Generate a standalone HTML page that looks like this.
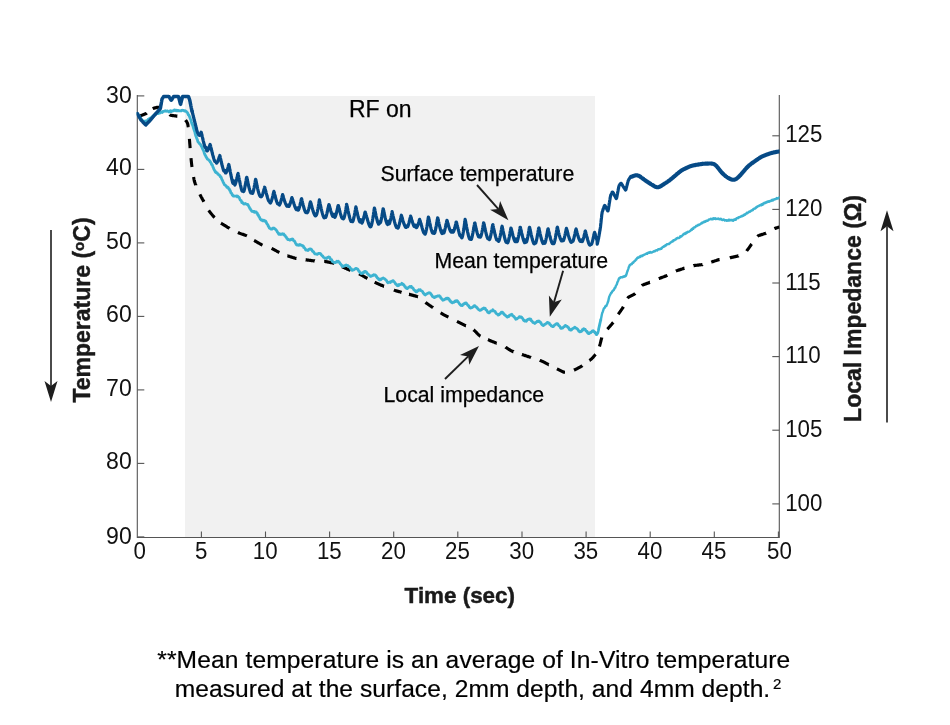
<!DOCTYPE html>
<html lang="en">
<head>
<meta charset="utf-8">
<title>RF ablation: temperature and local impedance</title>
<style>
html,body{margin:0;padding:0;background:#fff;}
body{width:950px;height:725px;overflow:hidden;}
svg{display:block;}
text{font-family:"Liberation Sans","DejaVu Sans",sans-serif;fill:#1a1a1a;}
.tk text{font-size:24px;fill:#111;}
.an text{font-size:21.25px;fill:#000;stroke:#000;stroke-width:0.25px;}
.ttl{font-size:23px;font-weight:bold;fill:#1a1a1a;stroke:#1a1a1a;stroke-width:0.45px;stroke-linejoin:round;}
.cap text{font-size:24.6px;fill:#000;stroke:#000;stroke-width:0.2px;}
</style>
</head>
<body>
<svg width="950" height="725" viewBox="0 0 950 725">
<rect width="950" height="725" fill="#fff"/>
<rect x="185" y="96" width="410" height="441.5" fill="#f1f1f1"/>
<g stroke="#555" stroke-width="1.1" fill="none">
<path d="M137.3,95 V537.5 H779.3 V95"/>
<path d="M137.3,95.9 h7"/>
<path d="M137.3,169.4 h7"/>
<path d="M137.3,242.9 h7"/>
<path d="M137.3,316.4 h7"/>
<path d="M137.3,389.9 h7"/>
<path d="M137.3,463.4 h7"/>
<path d="M137.3,536.9 h7"/>
<path d="M201.4,537.5 v-6"/>
<path d="M265.5,537.5 v-6"/>
<path d="M329.6,537.5 v-6"/>
<path d="M393.7,537.5 v-6"/>
<path d="M457.8,537.5 v-6"/>
<path d="M522.0,537.5 v-6"/>
<path d="M586.1,537.5 v-6"/>
<path d="M650.2,537.5 v-6"/>
<path d="M714.3,537.5 v-6"/>
<path d="M778.4,537.5 v-6"/>
<path d="M779.3,503.9 h-7"/>
<path d="M779.3,430.2 h-7"/>
<path d="M779.3,356.6 h-7"/>
<path d="M779.3,283.0 h-7"/>
<path d="M779.3,209.4 h-7"/>
<path d="M779.3,135.8 h-7"/>
</g>
<g class="tk">
<text transform="translate(131.7,102.7) scale(0.96,1)" text-anchor="end">30</text>
<text transform="translate(131.7,175.4) scale(0.96,1)" text-anchor="end">40</text>
<text transform="translate(131.7,248.9) scale(0.96,1)" text-anchor="end">50</text>
<text transform="translate(131.7,322.4) scale(0.96,1)" text-anchor="end">60</text>
<text transform="translate(131.7,395.9) scale(0.96,1)" text-anchor="end">70</text>
<text transform="translate(131.7,469.4) scale(0.96,1)" text-anchor="end">80</text>
<text transform="translate(131.7,543.7) scale(0.96,1)" text-anchor="end">90</text>
<text transform="translate(139.6,558.8) scale(0.93,1)" text-anchor="middle">0</text>
<text transform="translate(201.1,558.8) scale(0.93,1)" text-anchor="middle">5</text>
<text transform="translate(265.2,558.8) scale(0.93,1)" text-anchor="middle">10</text>
<text transform="translate(329.3,558.8) scale(0.93,1)" text-anchor="middle">15</text>
<text transform="translate(393.4,558.8) scale(0.93,1)" text-anchor="middle">20</text>
<text transform="translate(457.5,558.8) scale(0.93,1)" text-anchor="middle">25</text>
<text transform="translate(521.7,558.8) scale(0.93,1)" text-anchor="middle">30</text>
<text transform="translate(585.8,558.8) scale(0.93,1)" text-anchor="middle">35</text>
<text transform="translate(649.9,558.8) scale(0.93,1)" text-anchor="middle">40</text>
<text transform="translate(714.0,558.8) scale(0.93,1)" text-anchor="middle">45</text>
<text transform="translate(779.4,558.8) scale(0.93,1)" text-anchor="middle">50</text>
<text transform="translate(785.2,510.5) scale(0.93,1)">100</text>
<text transform="translate(785.2,436.8) scale(0.93,1)">105</text>
<text transform="translate(785.2,363.2) scale(0.93,1)">110</text>
<text transform="translate(785.2,289.6) scale(0.93,1)">115</text>
<text transform="translate(785.2,216.0) scale(0.93,1)">120</text>
<text transform="translate(785.2,142.3) scale(0.93,1)">125</text>
</g>
<clipPath id="plot"><rect x="136.6" y="94" width="642.9" height="445"/></clipPath>
<g clip-path="url(#plot)">
<path d="M140.0,116.0 140.2,115.9 140.4,115.8 140.6,115.7 140.8,115.7 141.0,115.6 141.2,115.5 141.4,115.4 141.6,115.4 141.8,115.3 142.0,115.2 142.2,115.1 142.4,115.0 142.6,115.0 142.8,114.9 143.0,114.8 143.2,114.7 143.4,114.6 143.6,114.6 143.8,114.5 144.0,114.4 144.2,114.3 144.4,114.3 144.6,114.2 144.8,114.1 145.0,114.0 145.2,113.9 145.4,113.9 145.6,113.8 145.8,113.7 146.0,113.6 146.2,113.5 146.4,113.4 146.6,113.3 146.8,113.1M152.7,108.7 152.9,108.6 153.1,108.5 153.3,108.4 153.5,108.3 153.7,108.3 153.9,108.2 154.1,108.1 154.3,108.1 154.5,108.0 154.7,108.0 154.9,107.9 155.1,107.9 155.3,107.8 155.5,107.8 155.7,107.7 155.9,107.7 156.1,107.6 156.3,107.6 156.5,107.5 156.7,107.5 156.9,107.4 157.1,107.4 157.3,107.3 157.5,107.3 157.7,107.3 157.9,107.2 158.1,107.2 158.3,107.2 158.5,107.2 158.7,107.2 158.9,107.2 159.1,107.3 159.3,107.3 159.5,107.3 159.7,107.4 159.9,107.4 160.1,107.5 160.3,107.6 160.5,107.6M169.6,114.6 169.8,114.8 170.0,114.9 170.2,115.0 170.4,115.1 170.6,115.2 170.8,115.2 171.0,115.3 171.2,115.3 171.4,115.4 171.6,115.4 171.8,115.4 172.0,115.5 172.2,115.5 172.4,115.5 172.6,115.5 172.8,115.6 173.0,115.6 173.2,115.6 173.4,115.7 173.6,115.7 173.8,115.7 174.0,115.7 174.2,115.8 174.4,115.8 174.6,115.8 174.8,115.8 175.0,115.9 175.2,115.9 175.4,115.9 175.6,115.9 175.8,116.0 176.0,116.0 176.2,116.0 176.4,116.1 176.6,116.1 176.8,116.1 177.0,116.2 177.2,116.2 177.3,116.2M185.5,120.1 185.7,120.4 185.9,120.6 186.1,120.9 186.3,121.1 186.5,121.4 186.7,121.7 186.9,122.1 187.1,122.5 187.3,122.9 187.5,123.4 187.7,124.0 187.9,124.9 188.1,126.2 188.3,127.3M189.4,138.9 189.6,141.3 189.8,143.8 190.0,146.2 190.1,148.1M191.0,158.1 191.2,160.1 191.4,162.0 191.6,163.9 191.8,165.6 192.0,167.0M193.6,177.1 193.8,178.3 194.0,179.5 194.2,180.5 194.4,181.3 194.6,181.9 194.8,182.4 195.0,183.0 195.2,183.6 195.4,184.1 195.6,184.6 195.8,185.1 195.8,185.3M199.9,194.4 200.1,194.8 200.3,195.2 200.5,195.6 200.7,196.0 200.9,196.4 201.1,196.7 201.3,197.1 201.5,197.5 201.7,197.8 201.9,198.2 202.1,198.6 202.3,198.9 202.5,199.3 202.7,199.6 202.9,200.0 203.1,200.4 203.3,200.7 203.5,201.1 203.7,201.4 203.9,201.8M208.7,210.4 208.9,210.7 209.1,211.0 209.3,211.3 209.5,211.5 209.7,211.8 209.9,212.1 210.1,212.3 210.3,212.6 210.5,212.8 210.7,213.1 210.9,213.3 211.1,213.5 211.3,213.8 211.5,214.0 211.7,214.3 211.9,214.5 212.1,214.7 212.3,215.0 212.5,215.2 212.7,215.5 212.9,215.7 213.1,215.9 213.3,216.2 213.5,216.4 213.7,216.6 213.9,216.8 214.1,217.1 214.3,217.3 214.5,217.5 214.6,217.6M221.0,223.1 221.2,223.2 221.4,223.4 221.6,223.5 221.8,223.7 222.0,223.8 222.2,223.9 222.4,224.1 222.6,224.2 222.8,224.3 223.0,224.4 223.2,224.5 223.4,224.7 223.6,224.8 223.8,224.9 224.0,225.0 224.2,225.2 224.4,225.3 224.6,225.4 224.8,225.5 225.0,225.6 225.2,225.8 225.4,225.9 225.6,226.0 225.8,226.1 226.0,226.3 226.2,226.4 226.4,226.5 226.6,226.6 226.8,226.7 227.0,226.9 227.2,227.0 227.4,227.1 227.6,227.2 227.8,227.4 228.0,227.5 228.2,227.6 228.4,227.7 228.6,227.8 228.8,228.0 229.0,228.1 229.2,228.2 229.4,228.3 229.5,228.4M237.9,232.5 238.1,232.6 238.3,232.7 238.5,232.8 238.7,232.9 238.9,232.9 239.1,233.0 239.3,233.1 239.5,233.2 239.7,233.2 239.9,233.3 240.1,233.4 240.3,233.5 240.5,233.5 240.7,233.6 240.9,233.7 241.1,233.7 241.3,233.8 241.5,233.9 241.7,234.0 241.9,234.0 242.1,234.1 242.3,234.2 242.5,234.2 242.7,234.3 242.9,234.4 243.1,234.4 243.3,234.5 243.5,234.6 243.7,234.7 243.9,234.7 244.1,234.8 244.3,234.9 244.5,234.9 244.7,235.0 244.9,235.1 245.1,235.2 245.3,235.2 245.5,235.3 245.7,235.4 245.9,235.5 246.1,235.5 246.3,235.6 246.5,235.7 246.7,235.8 246.9,235.9M254.1,240.4 254.3,240.5 254.5,240.6 254.7,240.7 254.9,240.9 255.1,241.0 255.3,241.1 255.5,241.2 255.7,241.3 255.9,241.5 256.1,241.6 256.3,241.7 256.5,241.8 256.7,241.9 256.9,242.0 257.1,242.2 257.3,242.3 257.5,242.4 257.7,242.5 257.9,242.6 258.1,242.7 258.3,242.9 258.5,243.0 258.7,243.1 258.9,243.2 259.1,243.3 259.3,243.4 259.5,243.6 259.7,243.7 259.9,243.8 260.1,243.9 260.3,244.0 260.5,244.1 260.7,244.3 260.9,244.4 261.1,244.5 261.3,244.6 261.5,244.7 261.7,244.8 261.9,244.9 262.1,245.0 262.3,245.1 262.5,245.2M271.6,248.4 271.8,248.5 272.0,248.6 272.2,248.7 272.4,248.8 272.6,248.9 272.8,249.0 273.0,249.1 273.2,249.2 273.4,249.3 273.6,249.4 273.8,249.5 274.0,249.6 274.2,249.7 274.4,249.8 274.6,250.0 274.8,250.1 275.0,250.2 275.2,250.3 275.4,250.4 275.6,250.5 275.8,250.6 276.0,250.7 276.2,250.8 276.4,250.9 276.6,251.1 276.8,251.2 277.0,251.3 277.2,251.4 277.4,251.5 277.6,251.6 277.8,251.7 278.0,251.8 278.2,251.9 278.4,252.0 278.6,252.1 278.8,252.2 279.0,252.3 279.2,252.4 279.4,252.5M287.4,255.8 287.6,255.8 287.8,255.9 288.0,256.0 288.2,256.0 288.4,256.1 288.6,256.2 288.8,256.2 289.0,256.3 289.2,256.4 289.4,256.4 289.6,256.5 289.8,256.5 290.0,256.6 290.2,256.7 290.4,256.7 290.6,256.8 290.8,256.9 291.0,256.9 291.2,257.0 291.4,257.0 291.6,257.1 291.8,257.2 292.0,257.2 292.2,257.3 292.4,257.4 292.6,257.4 292.8,257.5 293.0,257.5 293.2,257.6 293.4,257.7 293.6,257.7 293.8,257.8 294.0,257.9 294.2,257.9 294.4,258.0 294.6,258.0 294.8,258.1 295.0,258.2 295.2,258.2 295.4,258.3 295.6,258.3 295.8,258.4 296.0,258.4 296.2,258.5 296.4,258.5M305.7,259.8 305.9,259.8 306.1,259.9 306.3,259.9 306.5,259.9 306.7,259.9 306.9,260.0 307.1,260.0 307.3,260.0 307.5,260.0 307.7,260.1 307.9,260.1 308.1,260.1 308.3,260.1 308.5,260.2 308.7,260.2 308.9,260.2 309.1,260.3 309.3,260.3 309.5,260.3 309.7,260.3 309.9,260.4 310.1,260.4 310.3,260.4 310.5,260.4 310.7,260.5 310.9,260.5 311.1,260.5 311.3,260.5 311.5,260.6 311.7,260.6 311.9,260.6 312.1,260.7 312.3,260.7 312.5,260.7 312.7,260.7 312.9,260.8 313.1,260.8 313.3,260.8 313.5,260.8 313.7,260.9 313.9,260.9 314.1,260.9 314.3,260.9 314.5,260.9 314.7,261.0M324.2,261.4 324.4,261.4 324.6,261.4 324.8,261.4 325.0,261.5 325.2,261.5 325.4,261.5 325.6,261.6 325.8,261.6 326.0,261.6 326.2,261.7 326.4,261.7 326.6,261.8 326.8,261.8 327.0,261.8 327.2,261.9 327.4,261.9 327.6,262.0 327.8,262.0 328.0,262.0 328.2,262.1 328.4,262.1 328.6,262.1 328.8,262.2 329.0,262.2 329.2,262.3 329.4,262.3 329.6,262.3 329.8,262.4 330.0,262.4 330.2,262.5 330.4,262.5 330.6,262.5 330.8,262.6 331.0,262.6 331.2,262.6 331.4,262.7 331.6,262.7 331.8,262.8 332.0,262.8 332.2,262.8 332.4,262.9 332.6,262.9 332.8,263.0 333.0,263.0 333.2,263.0 333.4,263.1 333.6,263.1 333.8,263.2 334.0,263.3 334.1,263.3M342.1,266.7 342.3,266.8 342.5,266.9 342.7,267.0 342.9,267.1 343.1,267.2 343.3,267.2 343.5,267.3 343.7,267.4 343.9,267.5 344.1,267.6 344.3,267.7 344.5,267.8 344.7,267.9 344.9,268.0 345.1,268.1 345.3,268.1 345.5,268.2 345.7,268.3 345.9,268.4 346.1,268.5 346.3,268.6 346.5,268.7 346.7,268.8 346.9,268.9 347.1,269.0 347.3,269.1 347.5,269.1 347.7,269.2 347.9,269.3 348.1,269.4 348.3,269.5 348.5,269.6 348.7,269.7 348.9,269.8 349.1,269.9 349.3,270.0 349.5,270.0 349.7,270.1 349.9,270.2 350.1,270.3 350.3,270.4 350.5,270.5M359.0,273.8 359.2,273.9 359.4,274.0 359.6,274.1 359.8,274.2 360.0,274.3 360.2,274.4 360.4,274.5 360.6,274.6 360.8,274.7 361.0,274.8 361.2,275.0 361.4,275.1 361.6,275.2 361.8,275.3 362.0,275.4 362.2,275.5 362.4,275.6 362.6,275.8 362.8,275.9 363.0,276.0 363.2,276.1 363.4,276.2 363.6,276.3 363.8,276.4 364.0,276.6 364.2,276.7 364.4,276.8 364.6,276.9 364.8,277.0 365.0,277.1 365.2,277.2 365.4,277.4 365.6,277.5 365.8,277.6 366.0,277.7 366.2,277.8 366.4,277.9 366.6,278.0 366.8,278.1 367.0,278.3 367.2,278.4 367.4,278.5M374.7,282.2 374.9,282.3 375.1,282.4 375.3,282.5 375.5,282.6 375.7,282.7 375.9,282.8 376.1,282.9 376.3,283.0 376.5,283.1 376.7,283.2 376.9,283.3 377.1,283.4 377.3,283.5 377.5,283.6 377.7,283.7 377.9,283.8 378.1,283.8 378.3,283.9 378.5,284.0 378.7,284.1 378.9,284.2 379.1,284.3 379.3,284.4 379.5,284.5 379.7,284.6 379.9,284.7 380.1,284.8 380.3,284.8 380.5,284.9 380.7,285.0 380.9,285.1 381.1,285.1 381.3,285.2 381.5,285.3 381.7,285.4 381.9,285.4 382.1,285.5 382.3,285.6 382.5,285.7 382.7,285.8 382.9,285.8 383.1,285.9 383.3,286.0 383.5,286.1 383.7,286.1 383.9,286.2 384.0,286.2M393.9,290.0 394.1,290.1 394.3,290.2 394.5,290.2 394.7,290.3 394.9,290.4 395.1,290.5 395.3,290.5 395.5,290.6 395.7,290.7 395.9,290.7 396.1,290.8 396.3,290.9 396.5,290.9 396.7,291.0 396.9,291.0 397.1,291.1 397.3,291.1 397.5,291.2 397.7,291.3 397.9,291.3 398.1,291.4 398.3,291.4 398.5,291.5 398.7,291.5 398.9,291.6 399.1,291.6 399.3,291.7 399.5,291.7 399.7,291.8 399.9,291.8 400.1,291.9 400.3,292.0 400.5,292.0 400.7,292.1 400.9,292.1 401.1,292.2 401.3,292.2 401.5,292.3M409.0,294.3 409.2,294.3 409.4,294.4 409.6,294.4 409.8,294.5 410.0,294.6 410.2,294.6 410.4,294.7 410.6,294.7 410.8,294.8 411.0,294.8 411.2,294.9 411.4,294.9 411.6,295.0 411.8,295.0 412.0,295.1 412.2,295.1 412.4,295.2 412.6,295.3 412.8,295.3 413.0,295.4 413.2,295.4 413.4,295.5 413.6,295.5 413.8,295.6 414.0,295.6 414.2,295.7 414.4,295.7 414.6,295.8 414.8,295.8 415.0,295.9 415.2,295.9 415.4,296.0 415.6,296.1 415.8,296.1 416.0,296.2 416.2,296.2 416.4,296.3 416.6,296.3 416.8,296.4 417.0,296.5 417.2,296.5 417.4,296.6 417.6,296.7 417.8,296.8 417.9,296.8M425.5,302.4 425.7,302.6 425.9,302.7 426.1,302.9 426.3,303.0 426.5,303.2 426.7,303.3 426.9,303.5 427.1,303.6 427.3,303.8 427.5,303.9 427.7,304.1 427.9,304.2 428.1,304.3 428.3,304.5 428.5,304.6 428.7,304.8 428.9,304.9 429.1,305.0 429.3,305.2 429.5,305.3 429.7,305.4 429.9,305.6 430.1,305.7 430.3,305.8 430.5,306.0 430.7,306.1 430.9,306.3 431.1,306.4 431.3,306.5 431.5,306.7 431.7,306.8 431.9,306.9 432.1,307.1 432.3,307.2 432.5,307.3 432.7,307.5 432.9,307.6 433.0,307.7M440.6,312.8 440.8,312.9 441.0,313.1 441.2,313.2 441.4,313.3 441.6,313.5 441.8,313.6 442.0,313.7 442.2,313.8 442.4,314.0 442.6,314.1 442.8,314.2 443.0,314.3 443.2,314.5 443.4,314.6 443.6,314.7 443.8,314.8 444.0,314.9 444.2,315.0 444.4,315.1 444.6,315.2 444.8,315.3 445.0,315.4 445.2,315.5 445.4,315.6 445.6,315.7 445.8,315.8 446.0,315.9 446.2,316.0 446.4,316.1 446.6,316.2 446.8,316.3 447.0,316.4 447.2,316.5 447.4,316.6 447.6,316.7 447.8,316.8 448.0,316.9 448.2,317.0 448.4,317.1M457.0,321.4 457.2,321.5 457.4,321.6 457.6,321.7 457.8,321.8 458.0,321.9 458.2,322.0 458.4,322.1 458.6,322.2 458.8,322.3 459.0,322.4 459.2,322.5 459.4,322.6 459.6,322.7 459.8,322.8 460.0,322.9 460.2,323.0 460.4,323.1 460.6,323.2 460.8,323.3 461.0,323.4 461.2,323.5 461.4,323.6 461.6,323.7 461.8,323.8 462.0,323.9 462.2,324.0 462.4,324.1 462.6,324.2 462.8,324.3 463.0,324.4 463.2,324.5 463.4,324.6 463.6,324.7 463.8,324.8 464.0,324.9 464.2,325.0 464.4,325.1 464.6,325.2 464.8,325.3 465.0,325.4 465.2,325.5 465.4,325.6 465.6,325.7 465.8,325.8 465.9,325.8M473.5,329.8 473.7,330.0 473.9,330.1 474.1,330.3 474.3,330.5 474.5,330.6 474.7,330.8 474.9,331.0 475.1,331.2 475.3,331.4 475.5,331.6 475.7,331.8 475.9,332.0 476.1,332.2 476.3,332.4 476.5,332.6 476.7,332.9 476.9,333.1 477.1,333.3 477.3,333.5 477.5,333.7 477.7,333.9 477.9,334.1 478.1,334.3 478.3,334.5 478.5,334.7 478.7,334.9 478.9,335.0 479.1,335.2 479.3,335.4 479.5,335.6 479.7,335.7 479.9,335.9 480.1,336.0 480.3,336.1 480.5,336.2M488.0,339.7 488.2,339.8 488.4,339.8 488.6,339.9 488.8,340.0 489.0,340.1 489.2,340.2 489.4,340.3 489.6,340.4 489.8,340.5 490.0,340.6 490.2,340.6 490.4,340.7 490.6,340.8 490.8,340.9 491.0,341.0 491.2,341.1 491.4,341.1 491.6,341.2 491.8,341.3 492.0,341.4 492.2,341.5 492.4,341.5 492.6,341.6 492.8,341.7 493.0,341.8 493.2,341.9 493.4,341.9 493.6,342.0 493.8,342.1 494.0,342.2 494.2,342.3 494.4,342.3 494.6,342.4 494.8,342.5 495.0,342.6 495.2,342.6 495.4,342.7 495.6,342.8 495.8,342.9 496.0,343.0 496.2,343.0 496.4,343.1 496.6,343.2 496.7,343.2M505.5,347.1 505.7,347.3 505.9,347.4 506.1,347.5 506.3,347.6 506.5,347.8 506.7,347.9 506.9,348.0 507.1,348.2 507.3,348.3 507.5,348.4 507.7,348.6 507.9,348.7 508.1,348.8 508.3,349.0 508.5,349.1 508.7,349.2 508.9,349.4 509.1,349.5 509.3,349.6 509.5,349.8 509.7,349.9 509.9,350.0 510.1,350.1 510.3,350.3 510.5,350.4 510.7,350.5 510.9,350.6 511.1,350.7 511.3,350.8 511.5,350.9 511.7,351.0 511.9,351.1 512.1,351.2 512.3,351.3 512.5,351.4 512.7,351.4 512.9,351.5 513.1,351.6 513.3,351.6 513.4,351.7M522.0,354.5 522.2,354.6 522.4,354.6 522.6,354.7 522.8,354.8 523.0,354.8 523.2,354.9 523.4,355.0 523.6,355.0 523.8,355.1 524.0,355.2 524.2,355.2 524.4,355.3 524.6,355.4 524.8,355.4 525.0,355.5 525.2,355.6 525.4,355.6 525.6,355.7 525.8,355.8 526.0,355.8 526.2,355.9 526.4,356.0 526.6,356.0 526.8,356.1 527.0,356.2 527.2,356.2 527.4,356.3 527.6,356.4 527.8,356.4 528.0,356.5 528.2,356.6 528.4,356.6 528.6,356.7 528.8,356.8 529.0,356.8 529.2,356.9 529.4,357.0 529.6,357.0 529.8,357.1 530.0,357.2 530.2,357.2 530.4,357.3 530.6,357.3 530.8,357.4 531.0,357.5M539.7,360.3 539.9,360.4 540.1,360.5 540.3,360.5 540.5,360.6 540.7,360.7 540.9,360.8 541.1,360.8 541.3,360.9 541.5,361.0 541.7,361.1 541.9,361.2 542.1,361.2 542.3,361.3 542.5,361.4 542.7,361.5 542.9,361.6 543.1,361.7 543.3,361.8 543.5,361.9 543.7,362.0 543.9,362.1 544.1,362.2 544.3,362.3 544.5,362.4 544.7,362.5 544.9,362.6 545.1,362.7 545.3,362.8 545.5,363.0 545.7,363.1 545.9,363.2 546.1,363.3 546.3,363.4 546.5,363.5 546.7,363.6 546.9,363.7 547.1,363.8 547.3,363.9 547.5,364.0 547.7,364.1 547.9,364.2 548.1,364.3 548.3,364.4 548.5,364.5 548.7,364.6 548.8,364.6M556.9,368.8 557.1,368.9 557.3,369.0 557.5,369.1 557.7,369.2 557.9,369.3 558.1,369.4 558.3,369.5 558.5,369.6 558.7,369.7 558.9,369.8 559.1,369.9 559.3,370.0 559.5,370.1 559.7,370.2 559.9,370.3 560.1,370.4 560.3,370.5 560.5,370.6 560.7,370.7 560.9,370.8 561.1,370.9 561.3,371.0 561.5,371.1 561.7,371.2 561.9,371.3 562.1,371.4 562.3,371.5 562.5,371.6 562.7,371.7 562.9,371.8 563.1,371.9 563.3,371.9 563.5,372.0 563.7,372.1 563.9,372.1 564.1,372.2 564.3,372.2 564.5,372.2 564.7,372.2 564.9,372.2 565.0,372.2M574.0,370.1 574.2,370.0 574.4,369.9 574.6,369.9 574.8,369.8 575.0,369.7 575.2,369.6 575.4,369.5 575.6,369.4 575.8,369.3 576.0,369.2 576.2,369.1 576.4,369.0 576.6,368.9 576.8,368.8 577.0,368.7 577.2,368.6 577.4,368.5 577.6,368.3 577.8,368.2 578.0,368.1 578.2,368.0 578.4,367.9 578.6,367.8 578.8,367.7 579.0,367.6 579.2,367.5 579.4,367.4 579.6,367.3 579.8,367.2 580.0,367.1 580.2,367.0 580.4,366.9 580.6,366.7 580.8,366.6 581.0,366.5 581.2,366.4 581.4,366.3 581.6,366.2 581.8,366.0 582.0,365.9 582.2,365.8 582.3,365.7M589.4,360.5 589.6,360.4 589.8,360.2 590.0,360.1 590.2,359.9 590.4,359.8 590.6,359.6 590.8,359.5 591.0,359.3 591.2,359.2 591.4,359.0 591.6,358.8 591.8,358.6 592.0,358.4 592.2,358.2 592.4,358.0 592.6,357.8 592.8,357.6 593.0,357.4 593.2,357.2 593.4,356.9 593.6,356.7 593.8,356.4 594.0,356.2 594.2,356.0 594.4,355.7 594.6,355.5 594.8,355.2 595.0,355.0 595.2,354.8 595.4,354.5 595.6,354.3M599.5,346.5 599.7,345.7 599.9,344.9 600.1,344.1 600.3,343.4 600.5,342.6 600.7,341.8 600.9,341.0 601.1,340.2 601.3,339.4 601.5,338.7 601.7,338.0 601.8,337.4M607.3,329.2 607.5,329.0 607.7,328.8 607.9,328.6 608.1,328.4 608.3,328.2 608.5,327.9 608.7,327.7 608.9,327.5 609.1,327.3 609.3,327.0 609.5,326.8 609.7,326.6 609.9,326.3 610.1,326.1 610.3,325.9 610.5,325.7 610.7,325.4 610.9,325.2 611.1,325.0 611.3,324.8 611.5,324.5 611.7,324.3 611.9,324.1 612.1,323.8 612.3,323.6 612.5,323.3 612.7,323.1 612.9,322.8 613.1,322.5 613.2,322.4M618.3,314.3 618.5,314.0 618.7,313.7 618.9,313.4 619.1,313.1 619.3,312.8 619.5,312.5 619.7,312.2 619.9,311.9 620.1,311.7 620.3,311.4 620.5,311.1 620.7,310.8 620.9,310.5 621.1,310.2 621.3,310.0 621.5,309.7 621.7,309.4 621.9,309.1 622.1,308.8 622.3,308.5 622.5,308.2 622.7,307.9 622.9,307.6 623.1,307.2 623.3,306.9 623.4,306.7M627.6,298.3 627.8,298.0 628.0,297.8 628.2,297.5 628.4,297.3 628.6,297.2 628.8,297.0 629.0,296.9 629.2,296.8 629.4,296.7 629.6,296.6 629.8,296.5 630.0,296.4 630.2,296.3 630.4,296.2 630.6,296.1 630.8,296.0 631.0,295.9 631.2,295.8 631.4,295.7 631.6,295.6 631.8,295.5 632.0,295.4 632.2,295.3 632.4,295.2 632.6,295.1 632.8,295.0 633.0,294.9 633.2,294.8 633.4,294.7 633.6,294.6 633.8,294.5 634.0,294.4 634.2,294.3 634.4,294.1 634.6,294.0 634.8,293.8 635.0,293.7 635.2,293.5M641.8,285.7 642.0,285.5 642.2,285.3 642.4,285.2 642.6,285.1 642.8,285.0 643.0,284.9 643.2,284.8 643.4,284.7 643.6,284.7 643.8,284.6 644.0,284.5 644.2,284.4 644.4,284.4 644.6,284.3 644.8,284.2 645.0,284.2 645.2,284.1 645.4,284.0 645.6,283.9 645.8,283.9 646.0,283.8 646.2,283.7 646.4,283.7 646.6,283.6 646.8,283.5 647.0,283.4 647.2,283.4 647.4,283.3 647.6,283.2 647.8,283.2 648.0,283.1 648.2,283.0 648.4,282.9 648.6,282.9 648.8,282.8 649.0,282.7 649.2,282.6 649.4,282.6 649.6,282.5 649.8,282.4 649.9,282.4M658.8,278.6 659.0,278.5 659.2,278.5 659.4,278.4 659.6,278.3 659.8,278.2 660.0,278.2 660.2,278.1 660.4,278.0 660.6,277.9 660.8,277.9 661.0,277.8 661.2,277.7 661.4,277.6 661.6,277.6 661.8,277.5 662.0,277.4 662.2,277.3 662.4,277.3 662.6,277.2 662.8,277.1 663.0,277.0 663.2,277.0 663.4,276.9 663.6,276.8 663.8,276.7 664.0,276.7 664.2,276.6 664.4,276.5 664.6,276.4 664.8,276.4 665.0,276.3 665.2,276.2 665.4,276.1 665.6,276.1 665.8,276.0 666.0,275.9 666.2,275.8 666.4,275.8 666.6,275.7 666.8,275.6 667.0,275.5 667.2,275.4 667.4,275.3M675.9,271.1 676.1,271.0 676.3,270.9 676.5,270.8 676.7,270.8 676.9,270.7 677.1,270.6 677.3,270.5 677.5,270.5 677.7,270.4 677.9,270.3 678.1,270.3 678.3,270.2 678.5,270.1 678.7,270.1 678.9,270.0 679.1,269.9 679.3,269.9 679.5,269.8 679.7,269.7 679.9,269.7 680.1,269.6 680.3,269.6 680.5,269.5 680.7,269.4 680.9,269.4 681.1,269.3 681.3,269.2 681.5,269.2 681.7,269.1 681.9,269.0 682.1,269.0 682.3,268.9 682.5,268.8 682.7,268.8 682.9,268.7 683.1,268.6 683.3,268.6 683.5,268.5 683.7,268.4 683.9,268.4 684.1,268.3 684.3,268.2 684.4,268.2M693.5,265.7 693.7,265.6 693.9,265.6 694.1,265.6 694.3,265.5 694.5,265.5 694.7,265.5 694.9,265.4 695.1,265.4 695.3,265.4 695.5,265.4 695.7,265.4 695.9,265.3 696.1,265.3 696.3,265.3 696.5,265.3 696.7,265.2 696.9,265.2 697.1,265.2 697.3,265.2 697.5,265.2 697.7,265.1 697.9,265.1 698.1,265.1 698.3,265.1 698.5,265.0 698.7,265.0 698.9,265.0 699.1,265.0 699.3,264.9 699.5,264.9 699.7,264.9 699.9,264.9 700.1,264.9 700.3,264.8 700.5,264.8 700.7,264.8 700.9,264.8 701.1,264.7 701.3,264.7 701.5,264.7 701.7,264.7 701.9,264.6 702.1,264.6 702.3,264.6 702.4,264.5M711.3,262.1 711.5,262.0 711.7,262.0 711.9,261.9 712.1,261.8 712.3,261.8 712.5,261.7 712.7,261.6 712.9,261.6 713.1,261.5 713.3,261.4 713.5,261.4 713.7,261.3 713.9,261.2 714.1,261.2 714.3,261.1 714.5,261.0 714.7,261.0 714.9,260.9 715.1,260.8 715.3,260.8 715.5,260.7 715.7,260.7 715.9,260.6 716.1,260.5 716.3,260.5 716.5,260.4 716.7,260.3 716.9,260.3 717.1,260.2 717.3,260.1 717.5,260.1 717.7,260.0 717.9,259.9 718.1,259.9 718.3,259.8 718.5,259.7 718.7,259.7 718.9,259.6 719.1,259.6 719.3,259.5 719.5,259.5M729.9,257.8 730.1,257.7 730.3,257.7 730.5,257.7 730.7,257.6 730.9,257.6 731.1,257.5 731.3,257.5 731.5,257.4 731.7,257.4 731.9,257.4 732.1,257.3 732.3,257.3 732.5,257.2 732.7,257.2 732.9,257.1 733.1,257.1 733.3,257.0 733.5,257.0 733.7,257.0 733.9,256.9 734.1,256.9 734.3,256.8 734.5,256.8 734.7,256.7 734.9,256.7 735.1,256.6 735.3,256.6 735.5,256.5 735.7,256.5 735.9,256.5 736.1,256.4 736.3,256.4 736.5,256.3 736.7,256.3 736.9,256.2 737.1,256.2 737.3,256.1 737.5,256.1 737.7,256.0 737.9,256.0 738.1,255.9 738.3,255.9 738.4,255.8M746.6,251.0 746.8,250.7 747.0,250.5 747.2,250.3 747.4,250.0 747.6,249.8 747.8,249.5 748.0,249.2 748.2,248.9 748.4,248.7 748.6,248.4 748.8,248.1 749.0,247.8 749.2,247.5 749.4,247.2 749.6,247.0 749.8,246.7 750.0,246.4 750.2,246.1 750.4,245.8 750.6,245.6 750.8,245.3 751.0,245.0 751.2,244.7 751.4,244.4 751.6,244.1 751.7,244.0M757.4,236.4 757.6,236.2 757.8,236.1 758.0,236.0 758.2,235.8 758.4,235.7 758.6,235.6 758.8,235.5 759.0,235.5 759.2,235.4 759.4,235.3 759.6,235.3 759.8,235.2 760.0,235.1 760.2,235.1 760.4,235.0 760.6,234.9 760.8,234.9 761.0,234.8 761.2,234.7 761.4,234.7 761.6,234.6 761.8,234.6 762.0,234.5 762.2,234.4 762.4,234.4 762.6,234.3 762.8,234.2 763.0,234.2 763.2,234.1 763.4,234.0 763.6,234.0 763.8,233.9 764.0,233.8 764.2,233.8 764.4,233.7 764.6,233.6 764.8,233.6 765.0,233.5 765.2,233.4 765.4,233.3 765.6,233.2 765.8,233.2 765.9,233.1M774.4,228.7 774.6,228.6 774.8,228.5 775.0,228.4 775.2,228.4 775.4,228.3 775.6,228.2 775.8,228.1 776.0,228.1 776.2,228.0 776.4,227.9 776.6,227.9 776.8,227.8 777.0,227.7 777.2,227.7 777.4,227.6 777.6,227.5 777.8,227.5 778.0,227.4 778.2,227.3 778.4,227.3 778.6,227.2 778.8,227.2 779.0,227.2 779.2,227.1 779.3,227.1" fill="none" stroke="#000" stroke-width="3.1"/>
<path d="M137.3,113.4 137.8,114.1 138.3,115.2 138.8,115.8 139.3,116.0 139.8,117.4 140.3,117.6 140.8,118.6 141.3,119.6 141.8,119.7 142.3,120.3 142.8,120.8 143.3,121.2 143.8,121.5 144.3,121.1 144.8,121.6 145.3,121.6 145.8,120.8 146.3,120.9 146.8,120.6 147.3,120.5 147.8,120.3 148.3,119.2 148.8,119.0 149.3,119.1 149.8,118.3 150.3,118.1 150.8,118.2 151.3,117.4 151.8,117.6 152.3,117.2 152.8,116.0 153.3,116.0 153.8,115.8 154.3,115.5 154.8,114.3 155.3,113.9 155.8,114.3 156.3,114.1 156.8,113.2 157.3,113.3 157.8,113.5 158.3,113.5 158.8,112.7 159.3,113.1 159.8,113.1 160.3,112.8 160.8,112.3 161.3,112.0 161.8,112.1 162.3,112.5 162.8,111.5 163.3,111.3 163.8,111.4 164.3,111.0 164.8,110.9 165.3,110.7 165.8,111.2 166.3,111.3 166.8,111.1 167.3,110.9 167.8,111.1 168.3,111.4 168.8,111.8 169.3,111.9 169.8,111.1 170.3,110.8 170.8,111.5 171.3,111.5 171.8,110.9 172.3,111.1 172.8,111.0 173.3,110.7 173.8,110.8 174.3,109.9 174.8,110.1 175.3,110.2 175.8,110.1 176.3,110.9 176.8,110.1 177.3,110.9 177.8,110.4 178.3,110.7 178.8,110.8 179.3,110.6 179.8,110.9 180.3,110.9 180.8,110.6 181.3,110.9 181.8,110.3 182.3,110.2 182.8,110.4 183.3,110.4 183.8,110.3 184.3,111.1 184.8,111.1 185.3,110.7 185.8,111.2 186.3,111.5 186.8,112.1 187.3,112.5 187.8,113.4 188.3,114.7 188.8,115.0 189.3,116.2 189.8,117.3 190.3,118.8 190.8,119.5 191.3,121.6 191.8,123.3 192.3,124.4 192.8,125.6 193.3,127.5 193.8,129.1 194.3,130.6 194.8,131.8 195.3,134.3 195.8,135.9 196.3,137.0 196.8,138.7 197.3,139.4 197.8,141.5 198.3,142.1 198.8,142.7 199.3,143.5 199.8,143.6 200.3,144.4 200.8,145.1 201.3,146.3 201.8,146.7 202.3,148.5 202.8,149.2 203.3,150.3 203.8,151.2 204.3,153.1 204.8,154.5 205.3,155.4 205.8,156.1 206.3,157.6 206.8,157.7 207.3,159.0 207.8,159.3 208.3,159.5 208.8,160.1 209.3,160.7 209.8,160.9 210.3,162.1 210.8,162.4 211.3,163.8 211.8,164.7 212.3,165.0 212.8,166.7 213.3,167.5 213.8,169.1 214.3,169.9 214.8,170.8 215.3,172.0 215.8,171.8 216.3,172.8 216.8,173.0 217.3,173.0 217.8,174.1 218.3,174.2 218.8,174.9 219.3,175.1 219.8,175.4 220.3,176.8 220.8,176.7 221.3,177.6 221.8,179.3 222.3,180.1 222.8,181.1 223.3,182.7 223.8,183.1 224.3,184.6 224.8,185.0 225.3,185.3 225.8,185.5 226.3,186.1 226.8,187.2 227.3,187.0 227.8,187.1 228.3,187.7 228.8,189.0 229.3,189.0 229.8,190.5 230.3,190.8 230.8,192.7 231.3,193.2 231.8,193.5 232.3,195.1 232.8,195.2 233.3,196.1 233.8,196.2 234.3,196.0 234.8,196.1 235.3,196.2 235.8,196.1 236.3,196.0 236.8,195.9 237.3,196.9 237.8,196.2 238.3,196.9 238.8,197.0 239.3,197.8 239.8,199.1 240.3,200.1 240.8,200.5 241.3,200.8 241.8,202.6 242.3,202.2 242.8,203.0 243.3,203.5 243.8,204.0 244.3,204.0 244.8,203.8 245.3,203.5 245.8,204.0 246.3,204.1 246.8,204.3 247.3,204.6 247.8,204.5 248.3,205.4 248.8,206.4 249.3,207.3 249.8,208.5 250.3,208.8 250.8,210.0 251.3,210.4 251.8,211.3 252.3,211.1 252.8,211.6 253.3,211.3 253.8,211.4 254.3,212.2 254.8,211.6 255.3,212.2 255.8,212.1 256.3,212.0 256.8,213.2 257.3,213.2 257.8,214.8 258.3,214.9 258.8,216.5 259.3,216.9 259.8,218.0 260.3,219.3 260.8,219.4 261.3,220.1 261.8,220.4 262.3,220.0 262.8,220.8 263.3,220.9 263.8,220.2 264.3,220.7 264.8,220.7 265.3,221.5 265.8,221.3 266.3,222.5 266.8,223.5 267.3,224.4 267.8,224.7 268.3,226.4 268.8,226.6 269.3,228.0 269.8,228.3 270.3,228.3 270.8,229.1 271.3,229.1 271.8,228.9 272.3,229.0 272.8,228.2 273.3,228.1 273.8,228.0 274.3,228.5 274.8,228.7 275.3,229.1 275.8,229.8 276.3,230.3 276.8,230.7 277.3,232.0 277.8,232.5 278.3,233.3 278.8,234.2 279.3,233.8 279.8,234.4 280.3,234.5 280.8,234.0 281.3,234.1 281.8,234.4 282.3,233.7 282.8,234.0 283.3,234.2 283.8,234.0 284.3,235.1 284.8,235.3 285.3,235.8 285.8,236.8 286.3,237.2 286.8,238.3 287.3,238.5 287.8,239.6 288.3,239.6 288.8,239.5 289.3,239.7 289.8,240.1 290.3,239.9 290.8,239.4 291.3,239.1 291.8,239.1 292.3,239.8 292.8,239.1 293.3,240.3 293.8,240.8 294.3,240.8 294.8,241.7 295.3,242.7 295.8,243.6 296.3,244.5 296.8,245.0 297.3,244.7 297.8,244.9 298.3,245.2 298.8,245.3 299.3,245.2 299.8,244.5 300.3,244.9 300.8,245.1 301.3,245.1 301.8,245.3 302.3,245.7 302.8,246.2 303.3,245.9 303.8,247.5 304.3,247.6 304.8,248.3 305.3,249.0 305.8,250.0 306.3,250.0 306.8,250.0 307.3,250.1 307.8,250.5 308.3,250.2 308.8,249.3 309.3,249.2 309.8,249.1 310.3,248.9 310.8,249.3 311.3,249.2 311.8,250.0 312.3,250.9 312.8,251.4 313.3,251.4 313.8,252.2 314.3,253.0 314.8,253.8 315.3,253.9 315.8,254.0 316.3,254.2 316.8,253.9 317.3,254.4 317.8,254.0 318.3,253.5 318.8,253.6 319.3,253.3 319.8,253.4 320.3,253.4 320.8,253.9 321.3,254.9 321.8,255.3 322.3,256.0 322.8,256.0 323.3,257.1 323.8,257.5 324.3,257.7 324.8,258.2 325.3,258.0 325.8,258.1 326.3,258.5 326.8,258.2 327.3,257.9 327.8,257.1 328.3,257.1 328.8,256.9 329.3,257.2 329.8,257.5 330.3,258.9 330.8,259.4 331.3,259.4 331.8,260.1 332.3,261.5 332.8,261.7 333.3,262.0 333.8,262.4 334.3,262.3 334.8,262.6 335.3,262.6 335.8,262.2 336.3,262.2 336.8,261.3 337.3,261.6 337.8,262.0 338.3,261.2 338.8,261.8 339.3,262.4 339.8,262.7 340.3,263.9 340.8,264.2 341.3,264.8 341.8,265.8 342.3,265.4 342.8,266.6 343.3,266.0 343.8,266.2 344.3,266.2 344.8,265.9 345.3,265.2 345.8,265.2 346.3,265.0 346.8,265.5 347.3,265.6 347.8,265.5 348.3,266.2 348.8,266.7 349.3,266.8 349.8,267.2 350.3,268.4 350.8,268.7 351.3,268.9 351.8,270.2 352.3,270.4 352.8,270.0 353.3,270.0 353.8,269.8 354.3,269.7 354.8,269.0 355.3,268.8 355.8,268.4 356.3,268.4 356.8,268.8 357.3,268.9 357.8,269.2 358.3,270.1 358.8,271.1 359.3,271.3 359.8,272.5 360.3,272.9 360.8,273.2 361.3,273.6 361.8,272.8 362.3,272.8 362.8,273.3 363.3,273.0 363.8,271.9 364.3,272.3 364.8,271.3 365.3,271.4 365.8,271.5 366.3,272.0 366.8,272.6 367.3,273.7 367.8,273.9 368.3,274.2 368.8,275.0 369.3,275.3 369.8,275.7 370.3,276.3 370.8,276.5 371.3,276.1 371.8,276.0 372.3,275.5 372.8,275.7 373.3,275.1 373.8,274.7 374.3,275.0 374.8,274.8 375.3,275.1 375.8,275.4 376.3,276.6 376.8,276.7 377.3,278.1 377.8,278.2 378.3,278.5 378.8,279.5 379.3,279.8 379.8,280.0 380.3,279.2 380.8,279.6 381.3,279.4 381.8,278.5 382.3,278.4 382.8,278.3 383.3,277.9 383.8,278.5 384.3,278.6 384.8,279.1 385.3,279.3 385.8,280.0 386.3,280.3 386.8,281.1 387.3,282.1 387.8,282.8 388.3,282.3 388.8,282.3 389.3,282.2 389.8,282.4 390.3,282.5 390.8,281.5 391.3,281.4 391.8,281.2 392.3,281.4 392.8,280.7 393.3,280.7 393.8,281.5 394.3,281.9 394.8,282.4 395.3,283.5 395.8,284.1 396.3,284.1 396.8,285.0 397.3,285.6 397.8,285.8 398.3,284.9 398.8,285.5 399.3,284.5 399.8,284.8 400.3,284.3 400.8,284.4 401.3,283.9 401.8,283.3 402.3,284.0 402.8,283.9 403.3,284.9 403.8,284.7 404.3,285.6 404.8,286.6 405.3,286.7 405.8,287.8 406.3,288.2 406.8,288.4 407.3,288.6 407.8,288.0 408.3,287.5 408.8,287.3 409.3,287.1 409.8,286.5 410.3,287.0 410.8,286.3 411.3,286.4 411.8,287.5 412.3,287.8 412.8,287.9 413.3,288.6 413.8,289.8 414.3,290.2 414.8,290.4 415.3,291.0 415.8,291.7 416.3,290.9 416.8,291.8 417.3,291.2 417.8,290.5 418.3,290.8 418.8,289.7 419.3,289.8 419.8,289.9 420.3,289.7 420.8,290.6 421.3,290.8 421.8,290.8 422.3,291.4 422.8,292.0 423.3,293.2 423.8,293.4 424.3,294.2 424.8,294.8 425.3,295.0 425.8,294.2 426.3,294.2 426.8,293.9 427.3,293.5 427.8,293.2 428.3,293.0 428.8,293.1 429.3,292.7 429.8,292.9 430.3,293.3 430.8,293.6 431.3,294.7 431.8,295.1 432.3,296.3 432.8,296.8 433.3,296.7 433.8,297.0 434.3,297.6 434.8,297.4 435.3,296.6 435.8,296.9 436.3,296.3 436.8,296.4 437.3,296.0 437.8,296.0 438.3,295.8 438.8,296.1 439.3,295.8 439.8,296.3 440.3,296.7 440.8,298.1 441.3,298.1 441.8,299.1 442.3,299.6 442.8,300.2 443.3,299.9 443.8,299.7 444.3,299.8 444.8,299.1 445.3,299.0 445.8,299.0 446.3,298.1 446.8,298.8 447.3,298.3 447.8,298.1 448.3,299.0 448.8,298.7 449.3,299.5 449.8,300.8 450.3,300.7 450.8,301.9 451.3,301.7 451.8,302.6 452.3,302.9 452.8,302.5 453.3,302.4 453.8,302.4 454.3,302.0 454.8,301.2 455.3,301.1 455.8,301.5 456.3,300.7 456.8,301.2 457.3,300.8 457.8,301.5 458.3,302.1 458.8,302.8 459.3,303.6 459.8,304.3 460.3,304.8 460.8,305.3 461.3,305.6 461.8,305.1 462.3,305.5 462.8,304.9 463.3,304.3 463.8,303.8 464.3,304.1 464.8,303.6 465.3,302.9 465.8,303.5 466.3,303.1 466.8,303.8 467.3,304.5 467.8,305.3 468.3,305.4 468.8,306.0 469.3,307.1 469.8,307.8 470.3,308.0 470.8,307.7 471.3,307.8 471.8,307.7 472.3,307.5 472.8,306.8 473.3,306.8 473.8,305.9 474.3,305.6 474.8,305.7 475.3,306.3 475.8,306.8 476.3,306.8 476.8,307.7 477.3,307.8 477.8,308.8 478.3,309.3 478.8,309.8 479.3,309.8 479.8,310.4 480.3,310.3 480.8,310.1 481.3,309.8 481.8,309.2 482.3,309.1 482.8,308.5 483.3,308.6 483.8,308.0 484.3,308.4 484.8,308.2 485.3,308.5 485.8,309.9 486.3,310.0 486.8,310.4 487.3,311.5 487.8,312.4 488.3,312.5 488.8,312.9 489.3,312.8 489.8,312.2 490.3,311.6 490.8,311.0 491.3,310.8 491.8,310.8 492.3,310.8 492.8,309.8 493.3,310.7 493.8,310.8 494.3,311.2 494.8,311.2 495.3,311.7 495.8,313.1 496.3,313.6 496.8,313.9 497.3,314.2 497.8,314.1 498.3,315.1 498.8,314.8 499.3,314.6 499.8,314.1 500.3,313.3 500.8,313.3 501.3,312.3 501.8,312.6 502.3,312.2 502.8,312.6 503.3,313.4 503.8,313.5 504.3,314.6 504.8,315.0 505.3,315.3 505.8,315.8 506.3,316.0 506.8,316.8 507.3,317.1 507.8,316.4 508.3,316.4 508.8,316.5 509.3,315.5 509.8,315.6 510.3,315.1 510.8,314.6 511.3,314.7 511.8,314.3 512.3,315.1 512.8,315.9 513.3,316.0 513.8,316.4 514.3,317.1 514.8,317.8 515.3,318.3 515.8,319.2 516.3,318.9 516.8,318.9 517.3,318.4 517.8,318.0 518.3,317.9 518.8,317.6 519.3,316.7 519.8,316.7 520.3,316.9 520.8,317.3 521.3,316.9 521.8,317.5 522.3,318.3 522.8,318.5 523.3,319.7 523.8,320.6 524.3,320.4 524.8,321.0 525.3,320.7 525.8,321.1 526.3,321.3 526.8,320.5 527.3,319.8 527.8,319.4 528.3,319.4 528.8,319.3 529.3,318.8 529.8,318.9 530.3,319.5 530.8,319.3 531.3,320.7 531.8,320.9 532.3,321.4 532.8,322.5 533.3,322.5 533.8,322.7 534.3,323.0 534.8,323.4 535.3,322.7 535.8,322.7 536.3,322.1 536.8,321.9 537.3,321.1 537.8,321.5 538.3,321.5 538.8,320.9 539.3,321.2 539.8,321.8 540.3,322.5 540.8,322.4 541.3,323.7 541.8,324.4 542.3,324.9 542.8,324.9 543.3,325.5 543.8,325.2 544.3,324.6 544.8,324.4 545.3,324.2 545.8,323.7 546.3,323.5 546.8,323.0 547.3,322.3 547.8,322.4 548.3,322.9 548.8,322.9 549.3,323.2 549.8,324.5 550.3,324.7 550.8,325.1 551.3,325.9 551.8,326.1 552.3,326.2 552.8,326.7 553.3,326.6 553.8,325.9 554.3,325.2 554.8,325.1 555.3,324.5 555.8,324.2 556.3,323.7 556.8,324.1 557.3,323.7 557.8,323.8 558.3,325.0 558.8,325.6 559.3,325.8 559.8,326.4 560.3,327.4 560.8,328.2 561.3,327.8 561.8,328.2 562.3,327.8 562.8,328.0 563.3,327.3 563.8,326.8 564.3,326.6 564.8,326.0 565.3,325.4 565.8,325.5 566.3,326.2 566.8,326.3 567.3,326.4 567.8,327.2 568.3,327.3 568.8,328.2 569.3,329.3 569.8,329.1 570.3,330.2 570.8,330.2 571.3,330.0 571.8,329.5 572.3,328.8 572.8,328.6 573.3,328.5 573.8,327.8 574.3,327.9 574.8,327.1 575.3,327.8 575.8,328.0 576.3,328.3 576.8,328.3 577.3,329.0 577.8,329.5 578.3,330.1 578.8,331.3 579.3,331.5 579.8,331.9 580.3,331.4 580.8,331.3 581.3,331.5 581.8,331.1 582.3,329.7 582.8,330.0 583.3,329.4 583.8,328.6 584.3,329.2 584.8,329.1 585.3,329.6 585.8,330.7 586.3,331.1 586.8,331.1 587.3,332.4 587.8,332.3 588.3,333.5 588.8,333.5 589.3,333.5 589.8,332.7 590.3,332.5 590.8,332.5 591.3,331.9 591.8,331.9 592.3,331.0 592.8,331.0 593.3,330.7 593.8,331.2 594.3,332.1 594.8,331.9 595.3,333.1 595.8,333.2 596.3,334.5 596.8,334.5 597.3,333.6 597.8,332.9 598.3,331.0 598.8,328.3 599.3,326.1 599.8,323.9 600.3,321.7 600.8,319.8" fill="none" stroke="#3db3d1" stroke-width="2.8" stroke-linejoin="round" stroke-linecap="round"/>
<path d="M600.8,319.8 601.3,317.4 601.8,314.8 602.3,312.8 602.8,311.7 603.3,310.2 603.8,308.6 604.3,308.0 604.8,307.7 605.3,306.4 605.8,306.1 606.3,306.0 606.8,304.7 607.3,303.7 607.8,302.3 608.3,301.0 608.8,298.5 609.3,296.5 609.8,295.5 610.3,294.4 610.8,293.6 611.3,292.6 611.8,292.5 612.3,291.2 612.8,290.9 613.3,290.4 613.8,290.0 614.3,288.9 614.8,287.9 615.3,287.7 615.8,286.0 616.3,285.1 616.8,284.4 617.3,282.6 617.8,281.5 618.3,280.4 618.8,278.9 619.3,278.1 619.8,278.3 620.3,277.7 620.8,277.2 621.3,277.2 621.8,277.4 622.3,277.3 622.8,276.9 623.3,276.5 623.8,277.0 624.3,276.2 624.8,276.6 625.3,275.7 625.8,276.0 626.3,274.8 626.8,273.1 627.3,271.5 627.8,270.2 628.3,268.8 628.8,267.2 629.3,266.3 629.8,264.9 630.3,264.8 630.8,264.6 631.3,263.9 631.8,264.0 632.3,263.2 632.8,262.5 633.3,262.7 633.8,261.7 634.3,261.4 634.8,261.0 635.3,260.6 635.8,259.4 636.3,259.5 636.8,258.7 637.3,257.9 637.8,257.5 638.3,257.8 638.8,257.5 639.3,256.9 639.8,256.5 640.3,257.0 640.8,255.9 641.3,255.8 641.8,256.0 642.3,256.0 642.8,255.2 643.3,255.2 643.8,254.9 644.3,254.8 644.8,254.5 645.3,254.2 645.8,253.9 646.3,253.8 646.8,253.3 647.3,253.7 647.8,253.1 648.3,252.6 648.8,252.9 649.3,252.9 649.8,252.4 650.3,251.9 650.8,252.5 651.3,252.5 651.8,252.5 652.3,252.2 652.8,252.0 653.3,251.6 653.8,251.3 654.3,250.9 654.8,251.4 655.3,251.0 655.8,250.5 656.3,250.1 656.8,250.1 657.3,250.4 657.8,249.7 658.3,249.3 658.8,249.4 659.3,249.1 659.8,249.2 660.3,248.8 660.8,248.5 661.3,248.7 661.8,248.3 662.3,247.3 662.8,247.1 663.3,246.9 663.8,246.2 664.3,246.5 664.8,246.2 665.3,245.3 665.8,245.6 666.3,244.9 666.8,244.3 667.3,244.4 667.8,244.2 668.3,244.0 668.8,244.1 669.3,243.8 669.8,243.0 670.3,242.8 670.8,242.1 671.3,242.1 671.8,241.6 672.3,241.2 672.8,241.5 673.3,240.3 673.8,240.1 674.3,240.3 674.8,239.8 675.3,239.4 675.8,239.5 676.3,238.6 676.8,238.3 677.3,238.4 677.8,237.7 678.3,238.1 678.8,238.1 679.3,237.7 679.8,237.4 680.3,236.3 680.8,236.4 681.3,236.5 681.8,236.1 682.3,235.5 682.8,235.2 683.3,234.4 683.8,234.1 684.3,233.6 684.8,234.1 685.3,233.2 685.8,233.6 686.3,232.4 686.8,232.9 687.3,232.4 687.8,231.7 688.3,232.0 688.8,231.8 689.3,231.5 689.8,231.1 690.3,230.7 690.8,230.4 691.3,229.6 691.8,229.8 692.3,228.9 692.8,228.3 693.3,228.7 693.8,227.6 694.3,227.4 694.8,227.3 695.3,227.1 695.8,226.4 696.3,225.8 696.8,226.0 697.3,225.7 697.8,225.5 698.3,224.8 698.8,225.1 699.3,224.7 699.8,224.5 700.3,224.1 700.8,223.7 701.3,223.3 701.8,223.3 702.3,222.4 702.8,222.6 703.3,222.5 703.8,222.3 704.3,221.4 704.8,221.4 705.3,221.8 705.8,221.5 706.3,220.6 706.8,220.7 707.3,220.8 707.8,220.6 708.3,220.1 708.8,219.5 709.3,219.5 709.8,219.1 710.3,219.1 710.8,218.8 711.3,219.3 711.8,219.2 712.3,218.8 712.8,219.2 713.3,218.4 713.8,218.3 714.3,218.7 714.8,218.6 715.3,218.2 715.8,219.1 716.3,218.9 716.8,218.9 717.3,218.8 717.8,219.0 718.3,218.5 718.8,218.8 719.3,219.2 719.8,219.2 720.3,219.2 720.8,218.8 721.3,219.1 721.8,219.9 722.3,220.0 722.8,220.0 723.3,219.4 723.8,219.6 724.3,219.9 724.8,220.6 725.3,220.1 725.8,220.2 726.3,220.3 726.8,220.7 727.3,220.5 727.8,220.7 728.3,219.9 728.8,219.8 729.3,220.6 729.8,219.8 730.3,220.4 730.8,220.3 731.3,219.9 731.8,220.0 732.3,220.5 732.8,219.9 733.3,220.8 733.8,219.7 734.3,219.6 734.8,219.8 735.3,219.0 735.8,219.7 736.3,218.8 736.8,218.2 737.3,218.0 737.8,218.1 738.3,218.1 738.8,217.2 739.3,217.1 739.8,217.0 740.3,216.9 740.8,216.7 741.3,216.1 741.8,215.9 742.3,216.2 742.8,216.0 743.3,215.2 743.8,215.5 744.3,214.4 744.8,214.8 745.3,214.6 745.8,213.9 746.3,213.7 746.8,212.8 747.3,213.2 747.8,212.8 748.3,212.4 748.8,212.1 749.3,211.4 749.8,211.8 750.3,211.3 750.8,211.1 751.3,210.4 751.8,210.6 752.3,209.9 752.8,210.1 753.3,209.1 753.8,208.9 754.3,208.6 754.8,208.5 755.3,208.6 755.8,207.4 756.3,207.6 756.8,206.8 757.3,206.8 757.8,206.4 758.3,206.0 758.8,206.0 759.3,205.6 759.8,205.3 760.3,205.4 760.8,204.8 761.3,205.3 761.8,204.3 762.3,204.8 762.8,203.8 763.3,204.3 763.8,203.2 764.3,202.9 764.8,202.8 765.3,203.1 765.8,202.4 766.3,202.2 766.8,202.4 767.3,201.6 767.8,201.9 768.3,201.6 768.8,201.2 769.3,201.7 769.8,201.0 770.3,200.8 770.8,201.0 771.3,200.9 771.8,200.1 772.3,199.8 772.8,200.5 773.3,199.7 773.8,199.6 774.3,199.3 774.8,199.5 775.3,198.9 775.8,199.1 776.3,198.7 776.8,198.1 777.3,198.4 777.8,198.6 778.3,198.2 778.8,197.9 779.3,197.5" fill="none" stroke="#3db3d1" stroke-width="2.4" stroke-linejoin="round" stroke-linecap="round"/>
<g fill="none" stroke="#064a86" stroke-linejoin="round" stroke-linecap="round">
<path d="M137.3,113.6 137.6,114.0 137.8,114.5 138.1,114.9 138.3,115.3 138.6,115.8 138.8,116.2 139.1,116.6 139.3,117.1 139.6,117.5 139.8,117.9 140.1,118.4 140.3,118.8 140.6,119.2 140.8,119.7 141.1,120.1 141.3,120.3 141.6,120.6 141.8,120.9 142.1,121.1 142.3,121.4 142.6,121.6 142.8,121.9 143.1,122.2 143.3,122.4 143.6,122.7 143.8,123.0 144.1,123.2 144.3,123.5 144.6,123.8 144.8,124.0 145.1,124.3 145.3,124.6 145.6,124.8 145.8,124.9 146.1,124.6 146.3,124.4 146.6,124.1 146.8,123.8 147.1,123.6 147.3,123.3 147.6,123.1 147.8,122.8 148.1,122.5 148.3,122.3 148.6,122.0 148.8,121.8 149.1,121.5 149.3,121.2 149.6,121.0 149.8,120.7 150.1,120.4 150.3,120.1 150.6,119.8 150.8,119.5 151.1,119.2 151.3,118.9 151.6,118.6 151.8,118.3 152.1,118.0 152.3,117.7 152.6,117.4 152.8,117.1 153.1,116.8 153.3,116.5 153.6,116.2 153.8,115.9 154.1,115.6 154.3,115.3 154.6,115.0 154.8,114.7 155.1,114.4 155.3,114.2 155.6,113.9 155.8,113.6 156.1,113.3 156.3,113.1 156.6,112.8 156.8,112.5 157.1,112.2 157.3,111.9 157.6,111.7 157.8,111.4 158.1,111.1 158.3,110.8 158.6,110.5 158.8,110.3 159.1,110.0 159.3,109.7 159.6,109.4 159.8,109.2 160.1,108.9 160.3,108.6 160.6,107.2 160.8,105.8 161.1,104.4 161.3,103.0 161.6,101.5 161.8,100.1 162.1,98.9 162.3,98.5 162.6,98.1 162.8,97.7 163.1,97.3 163.3,96.9 163.6,96.6 163.8,96.6 164.1,96.6 164.3,96.6 164.6,96.6 164.8,96.6 165.1,96.6 165.3,96.6 165.6,96.6 165.8,96.6 166.1,96.6 166.3,96.6 166.6,96.6 166.8,96.6 167.1,96.6 167.3,96.6 167.6,96.6 167.8,96.6 168.1,96.6 168.3,96.6 168.6,96.6 168.8,96.6 169.1,96.7 169.3,97.1 169.6,97.6 169.8,98.0 170.1,98.5 170.3,98.9 170.6,99.3 170.8,99.8 171.1,100.2 171.3,100.3 171.6,99.9 171.8,99.5 172.1,99.1 172.3,98.6 172.6,98.2 172.8,97.8 173.1,97.4 173.3,96.9 173.6,96.6 173.8,96.6 174.1,96.6 174.3,96.6 174.6,96.6 174.8,96.6 175.1,96.6 175.3,96.6 175.6,96.6 175.8,96.6 176.1,96.6 176.3,96.6 176.6,96.6 176.8,96.6 177.1,96.6 177.3,96.6 177.6,96.6 177.8,96.6 178.1,96.6 178.3,96.6 178.6,96.8 178.8,97.8 179.1,98.8 179.3,99.8 179.6,100.7 179.8,101.7 180.1,102.7 180.3,103.7 180.6,104.3 180.8,103.3 181.1,102.3 181.3,101.3 181.6,100.4 181.8,99.4 182.1,98.4 182.3,97.4 182.6,96.6 182.8,96.6 183.1,96.6 183.3,96.6 183.6,96.6 183.8,96.6 184.1,96.6 184.3,96.6 184.6,96.6 184.8,96.6 185.1,96.6 185.3,96.6 185.6,96.6 185.8,96.6 186.1,96.6 186.3,96.6 186.6,96.6 186.8,96.6 187.1,96.6 187.3,96.6 187.6,96.6 187.8,96.6 188.1,96.6 188.3,96.6 188.6,96.7 188.8,97.5 189.1,98.2 189.3,98.9 189.6,99.6 189.8,100.5 190.1,101.8 190.3,103.0 190.6,104.3 190.8,105.6 191.1,106.8 191.3,108.1 191.6,109.2 191.8,110.2 192.1,111.2" stroke-width="3.5"/>
<path d="M192.1,111.2 192.3,112.2 192.6,113.2 192.8,114.2 193.1,115.2 193.3,116.2 193.6,117.2 193.8,118.2 194.1,119.2 194.3,120.2 194.6,121.2 194.8,122.2 195.1,123.2 195.3,124.3 195.6,125.3 195.8,126.3 196.1,127.3 196.3,128.3 196.6,129.3 196.6,129.5 196.8,130.3 197.1,131.1 197.3,131.9 197.6,132.6 197.8,133.3 198.1,133.9 198.3,134.4 198.6,134.7 198.8,135.0 199.1,135.2 199.3,135.3 199.6,135.4 199.8,135.3 200.1,135.1 200.3,134.6 200.6,134.0 200.8,133.1 201.1,132.2 201.3,132.5 201.6,133.6 201.8,134.7 202.1,135.8 202.3,136.9 202.6,137.9 202.8,139.0 203.1,140.1 203.3,141.1 203.6,142.2 203.8,143.2 204.1,144.1 204.3,145.1 204.6,146.0 204.8,146.8 205.1,147.4 205.3,147.6 205.6,147.5 205.8,147.2 206.1,147.5 206.3,148.5 206.6,149.9 206.8,150.8 207.1,151.0 207.3,150.9 207.6,150.6 207.8,150.2 208.1,149.8 208.3,149.2 208.6,148.7 208.8,148.0 209.1,147.4 209.3,146.6 209.6,145.9 209.8,145.2 210.1,144.5 210.3,145.0 210.6,146.0 210.8,147.1 211.1,148.1 211.3,149.2 211.6,150.2 211.8,151.3 212.1,152.3 212.3,153.3 212.6,154.3 212.8,155.2 213.1,156.1 213.3,157.0 213.6,157.9 213.8,158.7 214.1,159.5 214.3,160.2 214.6,160.9 214.8,161.4 215.1,161.7 215.3,161.7 215.6,161.6 215.8,161.6 216.1,162.1 216.3,162.8 216.6,163.1 216.8,162.9 217.1,162.6 217.3,162.2 217.6,161.7 217.8,161.1 218.1,160.5 218.3,159.8 218.6,159.1 218.8,158.3 219.1,157.6 219.3,156.8 219.6,156.0 219.8,155.4 220.1,156.5 220.3,157.6 220.6,158.7 220.8,159.9 221.1,161.0 221.3,162.0 221.6,163.1 221.8,164.2 222.1,165.2 222.3,166.2 222.6,167.1 222.8,168.0 223.1,168.8 223.3,169.6 223.6,170.4 223.8,170.9 224.1,171.1 224.3,170.9 224.6,170.4 224.8,170.3 225.1,171.0 225.3,172.3 225.6,173.0 225.8,173.0 226.1,172.7 226.3,172.3 226.6,171.8 226.8,171.3 227.1,170.6 227.3,169.8 227.6,169.0 227.8,168.1 228.1,167.1 228.3,166.1 228.6,165.1 228.8,164.5 229.1,165.7 229.3,167.0 229.6,168.2 229.8,169.5 230.1,170.7 230.3,172.0 230.6,173.3 230.8,174.5 231.1,175.7 231.3,176.9 231.6,178.1 231.8,179.2 232.1,180.3 232.3,181.3 232.6,182.3 232.8,183.0 233.1,183.3 233.3,182.8 233.6,181.8 233.8,180.9 234.1,181.0 234.3,182.8 234.6,184.5 234.8,185.0 235.1,184.7 235.3,184.1 235.6,183.4 235.8,182.6 236.1,181.7 236.3,180.8 236.6,179.7 236.8,178.7 237.1,177.5 237.3,176.4 237.6,175.2 237.8,174.1 238.1,173.5 238.3,174.8 238.6,176.0 238.8,177.3 239.1,178.5 239.3,179.8 239.6,181.0 239.8,182.2 240.1,183.4 240.3,184.6 240.6,185.7 240.8,186.7 241.1,187.8 241.3,188.7 241.6,189.6 241.8,190.4 242.1,190.9 242.3,191.1 242.6,190.8 242.8,190.2 243.1,190.0 243.3,190.8 243.6,191.5 243.8,191.4 244.1,190.8 244.3,189.8 244.6,188.7 244.8,187.5 245.1,186.2 245.3,184.9 245.6,183.4 245.8,182.0 246.1,180.5 246.3,178.9 246.6,177.4 246.8,177.3 247.1,178.5 247.3,179.7 247.6,181.0 247.8,182.2 248.1,183.3 248.3,184.5 248.6,185.6 248.8,186.7 249.1,187.7 249.3,188.7 249.6,189.6 249.8,190.5 250.1,191.3 250.3,192.0 250.6,192.6 250.8,193.0 251.1,193.1 251.3,192.8 251.6,192.2 251.8,192.0 252.1,192.5 252.3,193.3 252.6,193.4 252.8,192.9 253.1,192.1 253.3,191.2 253.6,190.2 253.8,189.1 254.1,187.8 254.3,186.5 254.6,185.1 254.8,183.7 255.1,182.2 255.3,180.8 255.6,179.3 255.8,179.6 256.1,181.0 256.4,182.4 256.6,183.7 256.9,185.0 257.1,186.2 257.4,187.4 257.6,188.6 257.9,189.6 258.1,190.7 258.4,191.6 258.6,192.5 258.9,193.4 259.1,194.1 259.4,194.8 259.6,195.4 259.9,195.9 260.1,196.2 260.4,196.5 260.6,196.6 260.9,196.7 261.1,196.8 261.4,196.7 261.6,196.5 261.9,196.1 262.1,195.6 262.4,195.0 262.6,194.3 262.9,193.5 263.1,192.7 263.4,191.8 263.6,190.9 263.9,190.0 264.1,189.1 264.4,188.1 264.6,187.2 264.9,187.8 265.1,188.7 265.4,189.7 265.6,190.7 265.9,191.6 266.1,192.6 266.4,193.6 266.6,194.5 266.9,195.4 267.1,196.3 267.4,197.2 267.6,198.0 267.9,198.8 268.1,199.6 268.4,200.2 268.6,200.8 268.9,201.1 269.1,201.3 269.4,201.4 269.6,201.7 269.9,202.3 270.1,202.8 270.4,203.0 270.6,202.7 270.9,202.3 271.1,201.7 271.4,201.1 271.6,200.3 271.9,199.5 272.1,198.6 272.4,197.7 272.6,196.7 272.9,195.6 273.1,194.6 273.4,193.5 273.6,192.4 273.9,191.4 274.1,192.0 274.4,193.0 274.6,194.1 274.9,195.1 275.1,196.1 275.4,197.0 275.6,198.0 275.9,198.9 276.1,199.8 276.4,200.6 276.6,201.4 276.9,202.1 277.1,202.8 277.4,203.3 277.6,203.8 277.9,203.9 278.1,203.7 278.4,203.4 278.6,203.5 278.9,204.1 279.1,204.8 279.4,205.0 279.6,204.8 279.9,204.3 280.1,203.7 280.4,203.0 280.6,202.2 280.9,201.4 281.1,200.5 281.4,199.5 281.6,198.6 281.9,197.6 282.1,196.6 282.4,195.5 282.6,194.6 282.9,195.5 283.1,196.3 283.4,197.2 283.6,198.0 283.9,198.8 284.1,199.6 284.4,200.3 284.6,201.1 284.9,201.8 285.1,202.5 285.4,203.1 285.6,203.7 285.9,204.3 286.1,204.8 286.4,205.3 286.6,205.7 286.9,206.1 287.1,206.3 287.4,206.2 287.6,205.8 287.9,205.2 288.1,205.1 288.4,205.7 288.6,206.4 288.9,206.5 289.1,206.2 289.4,205.7 289.6,205.1 289.9,204.5 290.1,203.7 290.4,203.0 290.6,202.1 290.9,201.3 291.1,200.4 291.4,199.4 291.6,198.5 291.9,197.6 292.1,198.0 292.4,198.8 292.6,199.6 292.9,200.4 293.1,201.2 293.4,202.0 293.6,202.8 293.9,203.6 294.1,204.3 294.4,205.1 294.6,205.8 294.9,206.5 295.1,207.2 295.4,207.8 295.6,208.4 295.9,209.0 296.1,209.4 296.4,209.7 296.6,209.6 296.9,209.1 297.1,208.3 297.4,207.9 297.6,208.5 297.9,209.6 298.1,210.2 298.4,210.1 298.6,209.6 298.9,209.0 299.1,208.3 299.4,207.5 299.6,206.6 299.9,205.6 300.1,204.6 300.4,203.5 300.6,202.4 300.9,201.3 301.1,200.1 301.4,198.9 301.6,198.7 301.9,199.8 302.1,200.8 302.4,201.9 302.6,202.9 302.9,203.9 303.1,204.9 303.4,205.9 303.6,206.8 303.9,207.7 304.1,208.6 304.4,209.4 304.6,210.1 304.9,210.8 305.1,211.4 305.4,212.0 305.6,212.4 305.9,212.7 306.1,212.7 306.4,212.4 306.6,212.1 306.9,212.1 307.1,212.5 307.4,212.7 307.6,212.4 307.9,211.8 308.1,211.1 308.4,210.3 308.6,209.4 308.9,208.4 309.1,207.4 309.4,206.4 309.6,205.3 309.9,204.2 310.1,203.0 310.4,201.9 310.6,202.2 310.9,203.1 311.1,204.0 311.4,204.9 311.6,205.8 311.9,206.7 312.1,207.7 312.4,208.5 312.6,209.4 312.9,210.3 313.1,211.1 313.4,211.9 313.6,212.6 313.9,213.3 314.1,213.9 314.4,214.5 314.6,215.0 314.9,215.4 315.1,215.7 315.4,215.9 315.6,215.8 315.9,215.6 316.1,215.4 316.4,215.0 316.6,214.4 316.9,213.6 317.1,212.7 317.4,211.6 317.6,210.4 317.9,209.1 318.1,207.7 318.4,206.3 318.6,204.7 318.9,203.2 319.1,201.5 319.4,199.9 319.6,201.2 319.9,202.4 320.1,203.6 320.4,204.8 320.6,206.0 320.9,207.1 321.1,208.3 321.4,209.4 321.6,210.4 321.9,211.5 322.1,212.4 322.4,213.4 322.6,214.2 322.9,215.0 323.1,215.8 323.4,216.4 323.6,217.0 323.9,217.5 324.1,217.8 324.4,217.8 324.6,217.6 324.9,217.4 325.1,217.3 325.4,217.5 325.6,217.5 325.9,217.1 326.1,216.4 326.4,215.5 326.6,214.6 326.9,213.6 327.1,212.6 327.4,211.5 327.6,210.4 327.9,209.2 328.1,208.0 328.4,206.9 328.6,205.7 328.9,204.6 329.1,204.7 329.4,205.7 329.6,206.7 329.9,207.6 330.1,208.6 330.4,209.5 330.6,210.4 330.9,211.3 331.1,212.1 331.4,212.9 331.6,213.6 331.9,214.3 332.1,215.0 332.4,215.6 332.6,216.1 332.9,216.3 333.1,216.1 333.4,215.4 333.6,214.5 333.9,214.2 334.1,214.8 334.4,216.1 334.6,217.1 334.9,217.3 335.1,217.0 335.4,216.4 335.6,215.8 335.9,215.0 336.1,214.2 336.4,213.3 336.6,212.3 336.9,211.3 337.1,210.2 337.4,209.0 337.6,207.9 337.9,206.7 338.1,205.5 338.4,205.5 338.6,206.5 338.9,207.5 339.1,208.5 339.4,209.5 339.6,210.5 339.9,211.5 340.1,212.4 340.4,213.4 340.6,214.2 340.9,215.1 341.1,215.9 341.4,216.6 341.6,217.3 341.9,217.8 342.1,218.2 342.4,218.4 342.6,218.4 342.9,218.4 343.1,218.7 343.4,218.9 343.6,218.8 343.9,218.3 344.1,217.6 344.4,216.8 344.6,215.8 344.9,214.7 345.1,213.4 345.4,212.1 345.6,210.7 345.9,209.2 346.1,207.6 346.4,206.0 346.6,204.3 346.9,205.2 347.1,206.4 347.4,207.6 347.6,208.7 347.9,209.9 348.1,211.1 348.4,212.2 348.6,213.4 348.9,214.4 349.1,215.5 349.4,216.5 349.6,217.4 349.9,218.3 350.1,219.2 350.4,220.0 350.6,220.6 350.9,221.2 351.1,221.5 351.4,221.4 351.6,221.0 351.9,220.6 352.1,220.7 352.4,221.3 352.6,221.7 352.9,221.4 353.1,220.7 353.4,219.8 353.6,218.8 353.9,217.7 354.1,216.5 354.4,215.3 354.6,214.0 354.9,212.6 355.1,211.2 355.4,209.8 355.6,208.3 355.9,206.9 356.1,207.7 356.4,208.9 356.6,210.1 356.9,211.3 357.1,212.5 357.4,213.6 357.6,214.7 357.9,215.8 358.1,216.8 358.4,217.8 358.6,218.7 358.9,219.5 359.1,220.3 359.4,221.0 359.6,221.6 359.9,222.0 360.1,222.0 360.4,221.4 360.6,220.4 360.9,219.7 361.1,220.0 361.4,221.4 361.6,222.7 361.9,223.1 362.1,222.8 362.4,222.3 362.6,221.6 362.9,220.9 363.1,220.1 363.4,219.2 363.6,218.3 363.9,217.3 364.1,216.2 364.4,215.2 364.6,214.1 364.9,213.0 365.1,212.0 365.4,212.3 365.6,213.2 365.9,214.0 366.1,214.9 366.4,215.8 366.6,216.7 366.9,217.6 367.1,218.5 367.4,219.4 367.6,220.3 367.9,221.1 368.1,222.0 368.4,222.8 368.6,223.5 368.9,224.2 369.1,224.9 369.4,225.5 369.6,226.0 369.9,226.4 370.1,226.8 370.4,226.9 370.6,226.9 370.9,226.6 371.1,226.1 371.4,225.4 371.6,224.6 371.9,223.5 372.1,222.4 372.4,221.1 372.6,219.7 372.9,218.2 373.1,216.6 373.4,215.0 373.6,213.3 373.9,211.5 374.1,209.8 374.4,208.0 374.6,208.5 374.9,209.8 375.1,211.1 375.4,212.4 375.6,213.7 375.9,214.9 376.1,216.1 376.4,217.2 376.6,218.3 376.9,219.3 377.1,220.3 377.4,221.2 377.6,222.0 377.9,222.7 378.1,223.3 378.4,223.8 378.6,224.2 378.9,224.2 379.1,223.9 379.4,222.9 379.6,221.7 379.9,221.6 380.1,222.5 380.4,222.7 380.6,222.2 380.9,221.3 381.1,220.2 381.4,219.0 381.6,217.7 381.9,216.3 382.1,214.9 382.4,213.4 382.6,211.9 382.9,210.4 383.1,208.8 383.4,209.2 383.6,210.4 383.9,211.7 384.1,212.9 384.4,214.1 384.6,215.2 384.9,216.4 385.1,217.4 385.4,218.5 385.6,219.5 385.9,220.4 386.1,221.3 386.4,222.1 386.6,222.8 386.9,223.4 387.1,224.0 387.4,224.4 387.6,224.5 387.9,224.0 388.1,222.9 388.4,221.4 388.6,221.2 388.9,222.7 389.1,223.8 389.4,223.8 389.6,223.1 389.9,222.3 390.1,221.4 390.4,220.4 390.6,219.3 390.9,218.1 391.1,216.9 391.4,215.6 391.6,214.3 391.9,213.0 392.1,211.7 392.4,212.8 392.6,213.9 392.9,215.0 393.1,216.1 393.4,217.2 393.6,218.2 393.9,219.3 394.1,220.3 394.4,221.3 394.6,222.2 394.9,223.1 395.1,224.0 395.4,224.8 395.6,225.5 395.9,226.2 396.1,226.8 396.4,227.3 396.6,227.6 396.9,227.7 397.1,227.7 397.4,227.7 397.6,227.9 397.9,228.1 398.1,227.9 398.4,227.4 398.6,226.7 398.9,225.9 399.1,225.0 399.4,224.1 399.6,223.0 399.9,222.0 400.1,220.8 400.4,219.7 400.6,218.6 400.9,217.4 401.1,216.3 401.4,215.2 401.6,215.9 401.9,216.9 402.1,217.8 402.4,218.7 402.6,219.5 402.9,220.4 403.1,221.2 403.4,222.0 403.6,222.8 403.9,223.5 404.1,224.2 404.4,224.9 404.6,225.5 404.9,226.0 405.1,226.5 405.4,226.9 405.6,227.3 405.9,227.5 406.1,227.5 406.4,227.1 406.6,226.5 406.9,225.9 407.1,226.1 407.4,226.6 407.6,226.7 407.9,226.3 408.1,225.6 408.4,224.9 408.6,224.1 408.9,223.2 409.1,222.3 409.4,221.3 409.6,220.3 409.9,219.2 410.1,218.2 410.4,217.1 410.6,216.1 410.9,216.7 411.1,217.7 411.4,218.6 411.6,219.5 411.9,220.3 412.1,221.1 412.4,221.9 412.6,222.7 412.9,223.4 413.1,224.1 413.4,224.8 413.6,225.4 413.9,225.9 414.1,226.4 414.4,226.7 414.6,226.7 414.9,226.3 415.1,225.6 415.4,225.1 415.6,225.4 415.9,226.5 416.1,227.3 416.4,227.6 416.6,227.5 416.9,227.2 417.1,226.8 417.4,226.3 417.6,225.7 417.9,225.1 418.1,224.4 418.4,223.6 418.6,222.8 418.9,221.9 419.1,221.0 419.4,220.1 419.6,219.4 419.9,220.2 420.1,220.9 420.4,221.7 420.6,222.6 420.9,223.4 421.1,224.3 421.4,225.2 421.6,226.1 421.9,227.0 422.1,227.9 422.4,228.8 422.6,229.6 422.9,230.4 423.1,231.2 423.4,231.9 423.6,232.5 423.9,232.9 424.1,233.2 424.4,233.4 424.6,233.7 424.9,234.0 425.1,234.1 425.4,233.6 425.6,232.9 425.9,232.0 426.1,230.9 426.4,229.8 426.6,228.4 426.9,227.0 427.1,225.5 427.4,223.9 427.6,222.3 427.9,220.6 428.1,218.8 428.4,217.1 428.6,217.4 428.9,218.7 429.1,219.9 429.4,221.1 429.6,222.3 429.9,223.5 430.1,224.7 430.4,225.8 430.6,226.9 430.9,227.9 431.1,228.9 431.4,229.8 431.6,230.6 431.9,231.4 432.1,232.1 432.4,232.7 432.6,233.1 432.9,233.2 433.1,232.9 433.4,232.3 433.6,231.8 433.9,232.1 434.1,232.9 434.4,233.4 434.6,233.0 434.9,232.3 435.1,231.4 435.4,230.4 435.6,229.2 435.9,228.0 436.1,226.7 436.4,225.3 436.6,223.9 436.9,222.4 437.1,220.9 437.4,219.4 437.6,217.9 437.9,218.2 438.1,219.4 438.4,220.6 438.6,221.8 438.9,223.0 439.1,224.1 439.4,225.2 439.6,226.3 439.9,227.3 440.1,228.3 440.4,229.2 440.6,230.1 440.9,230.9 441.1,231.6 441.4,232.3 441.6,232.8 441.9,233.3 442.1,233.6 442.4,233.5 442.6,232.8 442.9,231.8 443.1,231.0 443.4,231.5 443.6,232.5 443.9,232.9 444.1,232.4 444.4,231.7 444.6,230.7 444.9,229.8 445.1,228.7 445.4,227.6 445.6,226.4 445.9,225.2 446.1,224.0 446.4,222.8 446.6,221.6 446.9,220.4 447.1,220.5 447.4,221.5 447.6,222.5 447.9,223.4 448.1,224.3 448.4,225.2 448.6,226.1 448.9,226.9 449.1,227.7 449.4,228.4 449.6,229.1 449.9,229.8 450.1,230.4 450.4,230.9 450.6,231.4 450.9,231.8 451.1,232.1 451.4,232.1 451.6,231.7 451.9,231.1 452.1,230.6 452.4,230.6 452.6,231.4 452.9,232.1 453.1,232.2 453.4,231.9 453.6,231.4 453.9,230.8 454.1,230.1 454.4,229.3 454.6,228.5 454.9,227.5 455.1,226.5 455.4,225.5 455.6,224.4 455.9,223.3 456.1,222.1 456.4,222.1 456.6,223.0 456.9,224.0 457.1,224.9 457.4,225.9 457.6,226.9 457.9,227.9 458.1,228.9 458.4,230.0 458.6,230.9 458.9,231.9 459.1,232.9 459.4,233.8 459.6,234.6 459.9,235.4 460.1,235.9 460.4,236.0 460.6,235.8 460.9,235.5 461.1,235.8 461.4,236.7 461.6,237.7 461.9,237.9 462.1,237.4 462.4,236.7 462.6,235.7 462.9,234.5 463.1,233.3 463.4,231.8 463.6,230.3 463.9,228.6 464.1,226.9 464.4,225.1 464.6,223.2 464.9,221.3 465.1,219.4 465.4,220.3 465.6,221.7 465.9,223.1 466.1,224.4 466.4,225.8 466.6,227.1 466.9,228.4 467.1,229.7 467.4,230.9 467.6,232.1 467.9,233.2 468.1,234.3 468.4,235.3 468.6,236.2 468.9,237.1 469.1,237.8 469.4,238.4 469.6,238.9 469.9,239.1 470.1,239.1 470.4,239.1 470.6,239.3 470.9,239.5 471.1,239.5 471.4,239.2 471.6,238.5 471.9,237.6 472.1,236.6 472.4,235.5 472.6,234.3 472.9,233.0 473.1,231.6 473.4,230.3 473.6,228.9 473.9,227.4 474.1,226.0 474.4,224.6 474.6,223.2 474.9,223.0 475.1,224.2 475.4,225.3 475.6,226.5 475.9,227.6 476.1,228.7 476.4,229.8 476.6,230.8 476.9,231.8 477.1,232.7 477.4,233.6 477.6,234.4 477.9,235.1 478.1,235.8 478.4,236.3 478.6,236.8 478.9,236.9 479.1,236.7 479.4,236.2 479.6,235.8 479.9,235.9 480.1,236.6 480.4,237.1 480.6,236.9 480.9,236.3 481.1,235.6 481.4,234.7 481.6,233.7 481.9,232.6 482.1,231.4 482.4,230.1 482.6,228.7 482.9,227.3 483.1,225.8 483.4,224.3 483.6,222.8 483.9,223.3 484.1,224.5 484.4,225.7 484.6,226.9 484.9,228.0 485.1,229.2 485.4,230.3 485.6,231.4 485.9,232.4 486.1,233.5 486.4,234.4 486.6,235.4 486.9,236.2 487.1,237.0 487.4,237.7 487.6,238.3 487.9,238.7 488.1,238.7 488.4,238.5 488.6,238.3 488.9,238.6 489.1,239.3 489.4,239.6 489.6,239.4 489.9,238.8 490.1,238.0 490.4,237.1 490.6,236.0 490.9,234.9 491.1,233.6 491.4,232.3 491.6,231.0 491.9,229.5 492.1,228.1 492.4,226.6 492.6,225.1 492.9,224.6 493.1,225.8 493.4,226.9 493.6,228.1 493.9,229.3 494.1,230.5 494.4,231.6 494.6,232.7 494.9,233.8 495.1,234.8 495.4,235.8 495.6,236.7 495.9,237.6 496.1,238.4 496.4,239.1 496.6,239.8 496.9,240.1 497.1,240.1 497.4,239.8 497.6,239.5 497.9,239.6 498.1,240.3 498.4,241.2 498.6,241.4 498.9,241.0 499.1,240.4 499.4,239.6 499.6,238.7 499.9,237.6 500.1,236.5 500.4,235.3 500.6,234.0 500.9,232.6 501.1,231.2 501.4,229.8 501.6,228.3 501.9,226.8 502.1,226.2 502.4,227.4 502.6,228.7 502.9,229.9 503.1,231.1 503.4,232.3 503.6,233.5 503.9,234.6 504.1,235.7 504.4,236.8 504.6,237.8 504.9,238.7 505.1,239.6 505.4,240.4 505.6,241.2 505.9,241.8 506.1,242.2 506.4,242.4 506.6,242.2 506.9,241.9 507.1,241.9 507.4,242.4 507.6,242.8 507.9,242.6 508.1,242.0 508.4,241.1 508.6,240.1 508.9,239.0 509.1,237.8 509.4,236.6 509.6,235.2 509.9,233.8 510.1,232.4 510.4,231.0 510.6,229.5 510.9,228.1 511.1,228.2 511.4,229.2 511.6,230.3 511.9,231.3 512.1,232.3 512.4,233.3 512.6,234.3 512.9,235.3 513.1,236.2 513.4,237.1 513.6,238.0 513.9,238.8 514.1,239.5 514.4,240.2 514.6,240.8 514.9,241.4 515.1,241.7 515.4,241.6 515.6,240.9 515.9,239.8 516.1,239.0 516.4,239.3 516.6,240.7 516.9,241.7 517.1,241.6 517.4,241.1 517.6,240.2 517.9,239.3 518.1,238.3 518.4,237.1 518.6,235.9 518.9,234.6 519.1,233.2 519.4,231.8 519.6,230.3 519.9,228.8 520.1,227.3 520.4,227.3 520.6,228.4 520.9,229.5 521.1,230.7 521.4,231.8 521.6,232.9 521.9,233.9 522.1,235.0 522.4,236.0 522.6,237.0 522.9,237.9 523.1,238.8 523.4,239.7 523.6,240.5 523.9,241.2 524.1,241.8 524.4,242.3 524.6,242.7 524.9,242.7 525.1,242.0 525.4,240.9 525.6,239.9 525.9,240.1 526.1,241.4 526.4,242.0 526.6,241.7 526.9,240.9 527.1,240.0 527.4,238.9 527.6,237.6 527.9,236.3 528.1,235.0 528.4,233.5 528.6,232.1 528.9,230.5 529.1,229.0 529.4,227.4 529.6,227.3 529.9,228.5 530.1,229.7 530.4,230.9 530.6,232.0 530.9,233.2 531.1,234.3 531.4,235.4 531.6,236.5 531.9,237.6 532.1,238.5 532.4,239.5 532.6,240.3 532.9,241.2 533.1,241.9 533.4,242.6 533.6,243.1 533.9,243.6 534.1,243.8 534.4,243.8 534.6,243.5 534.9,243.0 535.1,242.9 535.4,243.2 535.6,243.1 535.9,242.6 536.1,241.7 536.4,240.7 536.6,239.6 536.9,238.4 537.1,237.1 537.4,235.7 537.6,234.3 537.9,232.8 538.1,231.3 538.4,229.8 538.6,228.3 538.9,228.0 539.1,229.2 539.4,230.4 539.6,231.5 539.9,232.7 540.1,233.8 540.4,234.9 540.6,236.0 540.9,237.0 541.1,238.0 541.4,238.9 541.6,239.8 541.9,240.7 542.1,241.4 542.4,242.1 542.6,242.7 542.9,243.2 543.1,243.5 543.4,243.3 543.6,242.6 543.9,242.0 544.1,241.8 544.4,242.6 544.6,243.3 544.9,243.3 545.1,242.7 545.4,241.9 545.6,241.0 545.9,239.9 546.1,238.8 546.4,237.5 546.6,236.2 546.9,234.9 547.1,233.5 547.4,232.1 547.6,230.6 547.9,229.2 548.1,228.8 548.4,229.8 548.6,230.9 548.9,232.0 549.1,233.0 549.4,234.1 549.6,235.1 549.9,236.1 550.1,237.1 550.4,238.0 550.6,238.9 550.9,239.8 551.1,240.6 551.4,241.4 551.6,242.1 551.9,242.7 552.1,243.2 552.4,243.5 552.6,243.6 552.9,243.4 553.1,243.2 553.4,243.2 553.6,243.5 553.9,243.6 554.1,243.2 554.4,242.4 554.6,241.5 554.9,240.4 555.1,239.3 555.4,238.0 555.6,236.6 555.9,235.2 556.1,233.8 556.4,232.3 556.6,230.7 556.9,229.2 557.1,227.7 557.4,227.1 557.6,228.2 557.9,229.4 558.1,230.5 558.4,231.6 558.6,232.6 558.9,233.7 559.1,234.6 559.4,235.6 559.6,236.4 559.9,237.2 560.1,238.0 560.4,238.7 560.6,239.3 560.9,239.9 561.1,240.3 561.4,240.7 561.6,241.0 561.9,241.0 562.1,240.8 562.4,240.4 562.6,239.9 562.9,240.0 563.1,240.5 563.4,240.6 563.6,240.1 563.9,239.4 564.1,238.6 564.4,237.7 564.6,236.7 564.9,235.6 565.1,234.5 565.4,233.3 565.6,232.1 565.9,230.9 566.1,229.6 566.4,228.4 566.6,228.9 566.9,229.8 567.1,230.8 567.4,231.7 567.6,232.6 567.9,233.5 568.1,234.4 568.4,235.3 568.6,236.2 568.9,237.0 569.1,237.8 569.4,238.5 569.6,239.2 569.9,239.9 570.1,240.5 570.4,241.1 570.6,241.6 570.9,242.0 571.1,242.3 571.4,242.3 571.6,242.1 571.9,241.7 572.1,241.2 572.4,241.2 572.6,241.4 572.9,241.3 573.1,240.8 573.4,240.1 573.6,239.2 573.9,238.3 574.1,237.3 574.4,236.3 574.6,235.2 574.9,234.1 575.1,232.9 575.4,231.7 575.6,230.5 575.9,229.4 576.1,229.0 576.4,230.0 576.6,231.0 576.9,231.9 577.1,232.9 577.4,233.8 577.6,234.7 577.9,235.6 578.1,236.4 578.4,237.2 578.6,237.9 578.9,238.6 579.1,239.2 579.4,239.8 579.6,240.4 579.9,240.8 580.1,241.2 580.4,241.4 580.6,241.4 580.9,241.0 581.1,240.3 581.4,239.9 581.6,240.3 581.9,241.1 582.1,241.6 582.4,241.4 582.6,240.9 582.9,240.2 583.1,239.5 583.4,238.7 583.6,237.8 583.9,236.9 584.1,235.8 584.4,234.8 584.6,233.7 584.9,232.6 585.1,231.4 585.4,231.0 585.6,232.0 585.9,232.9 586.1,233.9 586.4,234.9 586.6,235.9 586.9,236.8 587.1,237.8 587.4,238.8 587.6,239.7 587.9,240.6 588.1,241.4 588.4,242.2 588.6,243.0 588.9,243.6 589.1,244.2 589.4,244.6 589.6,245.0 589.9,245.2 590.1,245.1 590.4,244.7 590.6,244.2 590.9,244.0 591.1,244.3 591.4,244.4 591.6,244.0 591.9,243.4 592.1,242.6 592.4,241.7 592.6,240.7 592.9,239.7 593.1,238.6 593.4,237.5 593.6,236.3 593.9,235.2 594.1,234.0 594.4,232.8 594.6,232.3 594.9,233.2 595.1,234.1 595.4,235.0 595.6,235.9 595.9,236.7 596.1,237.6 596.4,238.4 596.6,239.2 596.9,240.0 597.1,240.7 597.2,244.1 597.5,243.3 597.7,242.2 598.0,241.0 598.2,239.9 598.5,238.7 598.7,237.4 599.0,236.0 599.2,234.5 599.5,233.1 599.7,231.6 600.0,230.2 600.2,228.7 600.5,226.9 600.7,224.8 601.0,222.4 601.2,220.0 601.5,217.7 601.7,215.3 602.0,213.4 602.2,212.0 602.5,211.2 602.7,210.5 603.0,209.8 603.2,209.0 603.5,208.3 603.7,207.6 604.0,206.9 604.2,206.2 604.5,205.6 604.7,205.4 605.0,205.7 605.2,206.1 605.5,206.6 605.7,207.1 606.0,207.6 606.2,208.1 606.5,208.5 606.7,209.0 607.0,209.5 607.2,210.0 607.5,210.4 607.7,210.9 608.0,210.9 608.2,210.1 608.5,208.7 608.7,207.1 609.0,205.5 609.2,203.9 609.5,202.3 609.7,200.8 610.0,199.2 610.2,197.6 610.5,196.3 610.7,195.4 611.0,194.8 611.2,194.3 611.5,193.8 611.7,193.2 612.0,192.7 612.2,192.2 612.5,192.0 612.7,192.0 613.0,192.5 613.2,192.9 613.5,193.4 613.7,193.9 614.0,194.4 614.2,194.8 614.5,195.3 614.7,195.8 615.0,196.2 615.2,196.7 615.5,197.2 615.7,197.7 616.0,198.1 616.2,198.5 616.5,198.3 616.7,197.5 617.0,196.2 617.2,194.9 617.5,193.6 617.7,192.3 618.0,191.0 618.2,189.7 618.5,188.4 618.7,187.1 619.0,186.1 619.2,185.4 619.5,185.0 619.7,184.7 620.0,184.4 620.2,184.0 620.5,183.7 620.7,183.4 621.0,183.3 621.2,183.4 621.5,183.7 621.7,184.1 622.0,184.5 622.2,184.9 622.5,185.3 622.7,185.7 623.0,186.1 623.2,186.5 623.5,186.9 623.7,187.3 624.0,187.6 624.2,188.0 624.5,188.4 624.7,188.8 625.0,189.2 625.2,189.6 625.5,190.0 625.7,189.9 626.0,189.4 626.2,188.4 626.5,187.4 626.7,186.4 627.0,185.4 627.2,184.5 627.5,183.5 627.7,182.5 628.0,181.5 628.2,180.7 628.5,180.1 628.7,179.7 629.0,179.3 629.2,178.9 629.5,178.5 629.7,178.1 630.0,177.7 630.2,177.3 630.5,177.1 630.7,176.9 631.0,176.8 631.2,176.7" stroke-width="3.2"/>
<path d="M631.2,176.7 631.5,176.6 631.7,176.6 632.0,176.5 632.2,176.6 632.5,176.4 632.7,176.3 633.0,176.2 633.2,176.0 633.5,176.0 633.7,175.9 634.0,175.8 634.2,175.7 634.5,175.6 634.7,175.5 635.0,175.5 635.2,175.4 635.5,175.4 635.7,175.4 636.0,175.3 636.2,175.3 636.5,175.3 636.7,175.3 637.0,175.4 637.2,175.4 637.5,175.4 637.7,175.5 638.0,175.6 638.2,175.7 638.5,175.7 638.7,175.8 639.0,175.9 639.2,176.1 639.5,176.2 639.7,176.3 640.0,176.5 640.2,176.7 640.5,176.8 640.7,177.0 641.0,177.2 641.2,177.4 641.5,177.6 641.7,177.8 642.0,177.9 642.2,178.1 642.5,178.3 642.7,178.5 643.0,178.7 643.2,178.8 643.5,179.0 643.7,179.2 644.0,179.4 644.2,179.6 644.5,179.8 644.7,179.9 645.0,180.1 645.2,180.3 645.5,180.5 645.7,180.7 646.0,180.8 646.2,181.0 646.5,181.2 646.7,181.4 647.0,181.5 647.2,181.7 647.5,181.9 647.7,182.0 648.0,182.2 648.2,182.4 648.5,182.5 648.7,182.7 649.0,182.9 649.2,183.0 649.5,183.2 649.7,183.3 650.0,183.5 650.2,183.7 650.5,183.8 650.7,184.0 651.0,184.1 651.2,184.3 651.5,184.4 651.7,184.6 652.0,184.7 652.2,184.9 652.5,185.0 652.7,185.2 653.0,185.3 653.2,185.5 653.5,185.7 653.7,185.8 654.0,186.0 654.2,186.1 654.5,186.3 654.7,186.4 655.0,186.6 655.2,186.7 655.5,186.8 655.7,186.9 656.0,187.0 656.2,187.0 656.5,187.1 656.7,187.1 657.0,187.2 657.2,187.2 657.5,187.2 657.7,187.2 658.0,187.2 658.2,187.2 658.5,187.1 658.7,187.1 659.0,187.0 659.2,186.9 659.5,186.8 659.7,186.7 660.0,186.6 660.2,186.5 660.5,186.3 660.7,186.2 661.0,186.0 661.2,185.9 661.5,185.7 661.7,185.5 662.0,185.4 662.2,185.2 662.5,185.0 662.7,184.9 663.0,184.7 663.2,184.5 663.5,184.4 663.7,184.2 664.0,184.1 664.2,183.9 664.5,183.7 664.7,183.6 665.0,183.4 665.2,183.2 665.5,183.1 665.7,182.9 666.0,182.8 666.2,182.6 666.5,182.4 666.7,182.3 667.0,182.1 667.2,181.9 667.5,181.8 667.7,181.6 668.0,181.4 668.2,181.2 668.5,181.0 668.7,180.9 669.0,180.7 669.2,180.5 669.5,180.3 669.7,180.1 670.0,179.9 670.2,179.7 670.5,179.5 670.7,179.3 671.0,179.1 671.2,178.9 671.5,178.7 671.7,178.5 672.0,178.3 672.2,178.1 672.5,177.9 672.7,177.7 673.0,177.5 673.2,177.2 673.5,177.0 673.7,176.8 674.0,176.6 674.2,176.4 674.5,176.2 674.7,176.0 675.0,175.7 675.2,175.5 675.5,175.3 675.7,175.1 676.0,174.9 676.2,174.7 676.5,174.5 676.7,174.3 677.0,174.0 677.2,173.8 677.5,173.6 677.7,173.4 678.0,173.2 678.2,173.0 678.5,172.8 678.7,172.6 679.0,172.3 679.2,172.2 679.5,172.0 679.7,171.8 680.0,171.6 680.2,171.4 680.5,171.2 680.7,171.0 681.0,170.9 681.2,170.7 681.5,170.5 681.7,170.4 682.0,170.2 682.2,170.1 682.5,169.9 682.7,169.8 683.0,169.6 683.2,169.5 683.5,169.4 683.7,169.2 684.0,169.1 684.2,169.0 684.5,168.9 684.7,168.8 685.0,168.7 685.2,168.5 685.5,168.4 685.7,168.3 686.0,168.2 686.2,168.1 686.5,168.0 686.7,167.8 687.0,167.7 687.2,167.6 687.5,167.5 687.7,167.4 688.0,167.3 688.2,167.1 688.5,167.0 688.7,166.9 689.0,166.8 689.2,166.7 689.5,166.6 689.7,166.5 690.0,166.4 690.2,166.3 690.5,166.2 690.7,166.1 691.0,166.0 691.2,166.0 691.5,165.9 691.7,165.8 692.0,165.7 692.2,165.7 692.5,165.6 692.7,165.5 693.0,165.5 693.2,165.4 693.5,165.4 693.7,165.3 694.0,165.3 694.2,165.2 694.5,165.2 694.7,165.1 695.0,165.1 695.2,165.0 695.5,165.0 695.7,164.9 696.0,164.9 696.2,164.9 696.5,164.8 696.7,164.8 697.0,164.7 697.2,164.7 697.5,164.6 697.7,164.6 698.0,164.6 698.2,164.5 698.5,164.5 698.7,164.4 699.0,164.4 699.2,164.3 699.5,164.3 699.7,164.3 700.0,164.2 700.2,164.2 700.5,164.1 700.7,164.1 701.0,164.1 701.2,164.0 701.5,164.0 701.7,164.0 702.0,163.9 702.2,163.9 702.5,163.9 702.7,163.8 703.0,163.8 703.2,163.8 703.5,163.8 703.7,163.7 704.0,163.7 704.2,163.7 704.5,163.7 704.7,163.7 705.0,163.7 705.2,163.6 705.5,163.6 705.7,163.6 706.0,163.6 706.2,163.6 706.5,163.6 706.7,163.6 707.0,163.6 707.2,163.6 707.5,163.6 707.7,163.6 708.0,163.6 708.2,163.5 708.5,163.5 708.7,163.5 709.0,163.5 709.2,163.5 709.5,163.5 709.7,163.5 710.0,163.5 710.2,163.5 710.5,163.5 710.7,163.5 711.0,163.5 711.2,163.5 711.5,163.5 711.7,163.6 712.0,163.6 712.2,163.7 712.5,163.7 712.7,163.8 713.0,163.8 713.2,163.9 713.5,164.0 713.7,164.0 714.0,164.1 714.2,164.3 714.5,164.4 714.7,164.5 715.0,164.7 715.2,164.9 715.5,165.1 715.7,165.3 716.0,165.5 716.2,165.8 716.5,166.1 716.7,166.3 717.0,166.6 717.2,166.9 717.5,167.2 717.7,167.5 718.0,167.8 718.2,168.1 718.5,168.4 718.7,168.8 719.0,169.1 719.2,169.4 719.5,169.7 719.7,170.0 720.0,170.4 720.2,170.7 720.5,171.0 720.7,171.3 721.0,171.6 721.2,171.9 721.5,172.2 721.7,172.5 722.0,172.7 722.2,173.0 722.5,173.2 722.7,173.5 723.0,173.7 723.2,174.0 723.5,174.2 723.7,174.4 724.0,174.7 724.2,174.9 724.5,175.1 724.7,175.3 725.0,175.6 725.2,175.8 725.5,176.0 725.7,176.2 726.0,176.4 726.2,176.6 726.5,176.7 726.7,176.9 727.0,177.1 727.2,177.3 727.5,177.4 727.7,177.6 728.0,177.8 728.2,177.9 728.5,178.1 728.7,178.2 729.0,178.3 729.2,178.5 729.5,178.6 729.7,178.7 730.0,178.8 730.2,179.0 730.5,179.1 730.7,179.2 731.0,179.3 731.2,179.4 731.5,179.5 731.7,179.5 732.0,179.6 732.2,179.7 732.5,179.7 732.7,179.7 733.0,179.7 733.2,179.7 733.5,179.7 733.7,179.7 734.0,179.7 734.2,179.6 734.5,179.6 734.7,179.5 735.0,179.5 735.2,179.4 735.5,179.3 735.7,179.1 736.0,179.0 736.2,178.9 736.5,178.7 736.7,178.5 737.0,178.3 737.2,178.1 737.5,177.9 737.7,177.7 738.0,177.4 738.2,177.2 738.5,177.0 738.7,176.7 739.0,176.5 739.2,176.3 739.5,176.0 739.7,175.8 740.0,175.5 740.2,175.2 740.5,175.0 740.7,174.7 741.0,174.4 741.2,174.1 741.5,173.8 741.7,173.5 742.0,173.2 742.2,172.9 742.5,172.7 742.7,172.4 743.0,172.1 743.2,171.8 743.5,171.5 743.7,171.2 744.0,170.9 744.2,170.6 744.5,170.3 744.7,170.0 745.0,169.7 745.2,169.4 745.5,169.1 745.7,168.9 746.0,168.6 746.2,168.3 746.5,168.0 746.7,167.8 747.0,167.5 747.2,167.2 747.5,167.0 747.7,166.7 748.0,166.5 748.2,166.2 748.5,166.0 748.7,165.8 749.0,165.6 749.2,165.3 749.5,165.1 749.7,164.9 750.0,164.7 750.2,164.5 750.5,164.3 750.7,164.1 751.0,163.9 751.2,163.7 751.5,163.5 751.7,163.4 752.0,163.2 752.2,163.0 752.5,162.8 752.7,162.7 753.0,162.5 753.2,162.3 753.5,162.1 753.7,162.0 754.0,161.8 754.2,161.6 754.5,161.4 754.7,161.2 755.0,161.1 755.2,160.9 755.5,160.7 755.7,160.5 756.0,160.4 756.2,160.2 756.5,160.0 756.7,159.8 757.0,159.7 757.2,159.5 757.5,159.3 757.7,159.1 758.0,159.0 758.2,158.8 758.5,158.6 758.7,158.4 759.0,158.3 759.2,158.1 759.5,158.0 759.7,157.8 760.0,157.7 760.2,157.5 760.5,157.4 760.7,157.2 761.0,157.1 761.2,156.9 761.5,156.8 761.7,156.7 762.0,156.6 762.2,156.4 762.5,156.3 762.7,156.2 763.0,156.1 763.2,156.0 763.5,155.9 763.7,155.8 764.0,155.7 764.2,155.6 764.5,155.5 764.7,155.4 765.0,155.3 765.2,155.2 765.5,155.1 765.7,155.0 766.0,154.9 766.2,154.8 766.5,154.7 766.7,154.6 767.0,154.5 767.2,154.4 767.5,154.3 767.7,154.3 768.0,154.2 768.2,154.1 768.5,154.0 768.7,153.9 769.0,153.8 769.2,153.7 769.5,153.6 769.7,153.5 770.0,153.5 770.2,153.4 770.5,153.3 770.7,153.2 771.0,153.1 771.2,153.1 771.5,153.0 771.7,152.9 772.0,152.9 772.2,152.8 772.5,152.7 772.7,152.7 773.0,152.6 773.2,152.6 773.5,152.5 773.7,152.4 774.0,152.4 774.2,152.3 774.5,152.3 774.7,152.2 775.0,152.2 775.2,152.1 775.5,152.1 775.7,152.0 776.0,152.0 776.2,151.9 776.5,151.9 776.7,151.8 777.0,151.8 777.2,151.7 777.5,151.7 777.7,151.7 778.0,151.6 778.2,151.6 778.5,151.5 778.7,151.5 779.0,151.5 779.2,151.5" stroke-width="4.1"/>
</g>
</g>
<g class="an">
<text x="349" y="116.5" style="font-size:23px">RF on</text>
<text x="380.5" y="181">Surface temperature</text>
<text x="434.5" y="268">Mean temperature</text>
<text x="383.5" y="402">Local impedance</text>
</g>
<path d="M477.0,185.0 L498.4,209.1" stroke="#1e1e1e" stroke-width="1.9" fill="none"/><path d="M508.4,220.3 L490.1,209.8 L498.4,209.1 L500.1,200.9 Z" fill="#1e1e1e"/>
<path d="M563.1,270.8 L554.0,302.3" stroke="#1e1e1e" stroke-width="1.9" fill="none"/><path d="M549.8,316.7 L548.9,295.6 L554.0,302.3 L561.8,299.4 Z" fill="#1e1e1e"/>
<path d="M445.0,379.0 L468.2,356.4" stroke="#1e1e1e" stroke-width="1.9" fill="none"/><path d="M479.0,346.0 L469.3,364.7 L468.2,356.4 L460.0,355.1 Z" fill="#1e1e1e"/>
<path d="M51.0,230.0 L51.0,386.0" stroke="#1e1e1e" stroke-width="1.6" fill="none"/><path d="M51.0,402.0 L44.5,381.0 L51.0,386.0 L57.5,381.0 Z" fill="#1e1e1e"/>
<path d="M887.0,422.4 L887.0,226.2" stroke="#1e1e1e" stroke-width="1.6" fill="none"/><path d="M887.0,210.2 L893.5,231.2 L887.0,226.2 L880.5,231.2 Z" fill="#1e1e1e"/>
<text class="ttl" transform="translate(90,310) rotate(-90)" text-anchor="middle">Temperature (<tspan font-size="15" dy="-6">o</tspan><tspan dy="6">C)</tspan></text>
<text class="ttl" transform="translate(861,308.5) rotate(-90)" text-anchor="middle">Local Impedance (Ω)</text>
<text class="ttl" x="459.8" y="603" text-anchor="middle" style="font-size:22.4px">Time (sec)</text>
<g class="cap">
<text x="157.2" y="668.3" textLength="633" lengthAdjust="spacing">**Mean temperature is an average of In-Vitro temperature</text>
<text x="174.7" y="697.3" textLength="595.5" lengthAdjust="spacing">measured at the surface, 2mm depth, and 4mm depth.</text>
<text x="773" y="688.5" style="font-size:15px">2</text>
</g>
</svg>
</body>
</html>
